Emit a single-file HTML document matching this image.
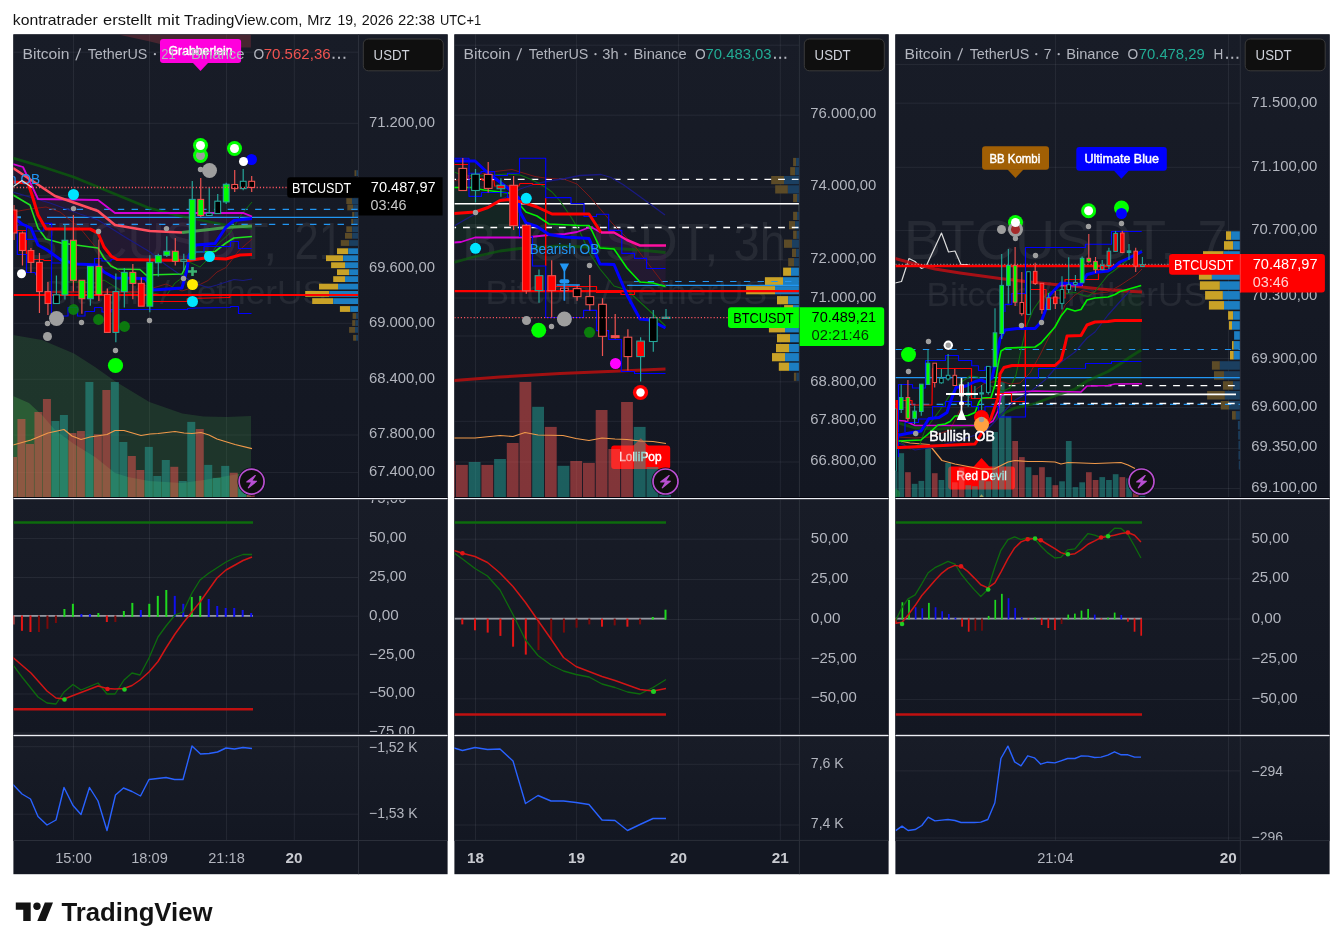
<!DOCTYPE html>
<html lang="de"><head><meta charset="utf-8"><title>TradingView Snapshot</title>
<style>html,body{margin:0;padding:0;background:#fff;}body{width:1343px;height:950px;overflow:hidden;position:relative;font-family:"Liberation Sans",sans-serif;}svg{position:absolute;left:0;top:0;display:block;will-change:transform;}text{font-family:"Liberation Sans",sans-serif;}</style>
</head><body>
<svg width="1343" height="950" viewBox="0 0 1343 950">
<defs><linearGradient id="bg" x1="0" y1="0" x2="0" y2="1"><stop offset="0" stop-color="#181c27"/><stop offset="1" stop-color="#131722"/></linearGradient>
<clipPath id="m1"><rect x="13.4" y="34.4" width="345.1" height="464.15"/></clipPath><clipPath id="a1"><rect x="358.5" y="34.4" width="89.1" height="464.15"/></clipPath><clipPath id="p1"><rect x="13.4" y="498.55" width="345.1" height="236.95"/></clipPath><clipPath id="b1"><rect x="358.5" y="499.15" width="89.1" height="235.75"/></clipPath><clipPath id="q1"><rect x="13.4" y="735.5" width="345.1" height="105"/></clipPath><clipPath id="c1"><rect x="358.5" y="736.1" width="89.1" height="104.4"/></clipPath><clipPath id="w1"><rect x="13.4" y="34.4" width="434.2" height="839.8"/></clipPath>
<clipPath id="m2"><rect x="454.4" y="34.4" width="345" height="464.15"/></clipPath><clipPath id="a2"><rect x="799.4" y="34.4" width="89.2" height="464.15"/></clipPath><clipPath id="p2"><rect x="454.4" y="498.55" width="345" height="236.95"/></clipPath><clipPath id="b2"><rect x="799.4" y="499.15" width="89.2" height="235.75"/></clipPath><clipPath id="q2"><rect x="454.4" y="735.5" width="345" height="104.9"/></clipPath><clipPath id="c2"><rect x="799.4" y="736.1" width="89.2" height="104.3"/></clipPath><clipPath id="w2"><rect x="454.4" y="34.4" width="434.2" height="839.8"/></clipPath>
<clipPath id="m3"><rect x="895.4" y="34.4" width="344.9" height="464.15"/></clipPath><clipPath id="a3"><rect x="1240.3" y="34.4" width="89.3" height="464.15"/></clipPath><clipPath id="p3"><rect x="895.4" y="498.55" width="344.9" height="236.95"/></clipPath><clipPath id="b3"><rect x="1240.3" y="499.15" width="89.3" height="235.75"/></clipPath><clipPath id="q3"><rect x="895.4" y="735.5" width="344.9" height="105.1"/></clipPath><clipPath id="c3"><rect x="1240.3" y="736.1" width="89.3" height="104.5"/></clipPath><clipPath id="w3"><rect x="895.4" y="34.4" width="434.2" height="839.8"/></clipPath>
</defs>
<text x="12.8" y="25" font-size="15" fill="#131313" textLength="84.9" lengthAdjust="spacingAndGlyphs">kontratrader</text><text x="103.1" y="25" font-size="15" fill="#131313" textLength="48.6" lengthAdjust="spacingAndGlyphs">erstellt</text><text x="157" y="25" font-size="15" fill="#131313" textLength="22.6" lengthAdjust="spacingAndGlyphs">mit</text><text x="184" y="25" font-size="15" fill="#131313" textLength="118.4" lengthAdjust="spacingAndGlyphs">TradingView.com,</text><text x="307.3" y="25" font-size="15" fill="#131313" textLength="24.3" lengthAdjust="spacingAndGlyphs">Mrz</text><text x="337.5" y="25" font-size="15" fill="#131313" textLength="19.4" lengthAdjust="spacingAndGlyphs">19,</text><text x="361.7" y="25" font-size="15" fill="#131313" textLength="31.9" lengthAdjust="spacingAndGlyphs">2026</text><text x="398" y="25" font-size="15" fill="#131313" textLength="37.1" lengthAdjust="spacingAndGlyphs">22:38</text><text x="439.9" y="25" font-size="15" fill="#131313" textLength="41.2" lengthAdjust="spacingAndGlyphs">UTC+1</text>
<g>
<rect x="13.4" y="34.4" width="434.2" height="839.8" fill="#131722"/><rect x="13.4" y="34.4" width="434.2" height="464.15" fill="url(#bg)"/><rect x="13.4" y="498.55" width="434.2" height="236.95" fill="url(#bg)"/><rect x="13.4" y="735.5" width="434.2" height="105" fill="url(#bg)"/><line x1="73.5" y1="34.4" x2="73.5" y2="840.5" stroke="rgba(240,243,250,0.07)" stroke-width="1"/><line x1="149.5" y1="34.4" x2="149.5" y2="840.5" stroke="rgba(240,243,250,0.07)" stroke-width="1"/><line x1="226.5" y1="34.4" x2="226.5" y2="840.5" stroke="rgba(240,243,250,0.07)" stroke-width="1"/><line x1="294.3" y1="34.4" x2="294.3" y2="840.5" stroke="rgba(240,243,250,0.07)" stroke-width="1"/>
<g clip-path="url(#m1)"><line x1="13.4" y1="52.2" x2="358.5" y2="52.2" stroke="rgba(240,243,250,0.07)" stroke-width="1"/><line x1="13.4" y1="123.3" x2="358.5" y2="123.3" stroke="rgba(240,243,250,0.07)" stroke-width="1"/><line x1="13.4" y1="195.4" x2="358.5" y2="195.4" stroke="rgba(240,243,250,0.07)" stroke-width="1"/><line x1="13.4" y1="268" x2="358.5" y2="268" stroke="rgba(240,243,250,0.07)" stroke-width="1"/><line x1="13.4" y1="323.3" x2="358.5" y2="323.3" stroke="rgba(240,243,250,0.07)" stroke-width="1"/><line x1="13.4" y1="379.3" x2="358.5" y2="379.3" stroke="rgba(240,243,250,0.07)" stroke-width="1"/><line x1="13.4" y1="435" x2="358.5" y2="435" stroke="rgba(240,243,250,0.07)" stroke-width="1"/><line x1="13.4" y1="472.6" x2="358.5" y2="472.6" stroke="rgba(240,243,250,0.07)" stroke-width="1"/><text x="23.5" y="258.8" font-size="52" fill="#ffffff" textLength="254" lengthAdjust="spacingAndGlyphs" fill-opacity="0.07">BTCUSDT,</text><text x="294.5" y="258.8" font-size="52" fill="#ffffff" textLength="48.6" lengthAdjust="spacingAndGlyphs" fill-opacity="0.07">21</text><text x="44.5" y="304.3" font-size="32.5" fill="#ffffff" textLength="281.5" lengthAdjust="spacingAndGlyphs" fill-opacity="0.07">Bitcoin / TetherUS</text><polygon points="118,34.4 250.9,34.4 250.9,47.5 178,47.5 160,44 150,41.4" fill="#80303c" fill-opacity="0.45"/><polygon points="13,335 42,340 74,353.5 95,367 115.5,381.6 149.4,402 182.3,413.6 203.6,416.5 226.8,417 251,415.9 251,498.55 13,498.55" fill="#377b40" fill-opacity="0.3"/><polygon points="13,396 29,403 42,415 55,430 74,444 95,457 115,473 128,477 149,481 182,483 204,480 227,476 251,472 251,498.55 13,498.55" fill="#48ad4b" fill-opacity="0.32"/><polygon points="13,164 23,167 38,199 98,200 115,213 243,212.8 252,216.5 252,254.5 240,255 226,259 205,258 189,260.5 117,259.5 111,256 104,247 98,233 90,229 46,229 38,215 32,195 28,183 13,182" fill="#5c1a66" fill-opacity="0.2"/><rect x="8.97" y="457" width="8" height="41.55" fill="#ef5350" fill-opacity="0.5"/><rect x="17.46" y="419" width="8" height="79.55" fill="#ef5350" fill-opacity="0.5"/><rect x="25.95" y="444" width="8" height="54.55" fill="#ef5350" fill-opacity="0.5"/><rect x="34.44" y="412" width="8" height="86.55" fill="#ef5350" fill-opacity="0.5"/><rect x="42.93" y="399" width="8" height="99.55" fill="#ef5350" fill-opacity="0.5"/><rect x="51.42" y="421" width="8" height="77.55" fill="#26a69a" fill-opacity="0.5"/><rect x="59.91" y="415" width="8" height="83.55" fill="#26a69a" fill-opacity="0.5"/><rect x="68.4" y="433" width="8" height="65.55" fill="#ef5350" fill-opacity="0.5"/><rect x="76.89" y="431" width="8" height="67.55" fill="#ef5350" fill-opacity="0.5"/><rect x="85.38" y="382" width="8" height="116.55" fill="#26a69a" fill-opacity="0.5"/><rect x="93.87" y="434.3" width="8" height="64.25" fill="#ef5350" fill-opacity="0.5"/><rect x="102.36" y="390" width="8" height="108.55" fill="#ef5350" fill-opacity="0.5"/><rect x="110.85" y="382" width="8" height="116.55" fill="#26a69a" fill-opacity="0.5"/><rect x="119.34" y="442" width="8" height="56.55" fill="#26a69a" fill-opacity="0.5"/><rect x="127.83" y="456" width="8" height="42.55" fill="#ef5350" fill-opacity="0.5"/><rect x="136.32" y="470" width="8" height="28.55" fill="#ef5350" fill-opacity="0.5"/><rect x="144.81" y="446.9" width="8" height="51.65" fill="#26a69a" fill-opacity="0.5"/><rect x="153.3" y="476" width="8" height="22.55" fill="#26a69a" fill-opacity="0.5"/><rect x="161.79" y="460" width="8" height="38.55" fill="#26a69a" fill-opacity="0.5"/><rect x="170.28" y="466.8" width="8" height="31.75" fill="#ef5350" fill-opacity="0.5"/><rect x="178.77" y="481" width="8" height="17.55" fill="#26a69a" fill-opacity="0.5"/><rect x="187.26" y="421.9" width="8" height="76.65" fill="#26a69a" fill-opacity="0.5"/><rect x="195.75" y="429" width="8" height="69.55" fill="#ef5350" fill-opacity="0.5"/><rect x="204.24" y="464.9" width="8" height="33.65" fill="#26a69a" fill-opacity="0.5"/><rect x="212.73" y="477.9" width="8" height="20.65" fill="#26a69a" fill-opacity="0.5"/><rect x="221.22" y="465.9" width="8" height="32.65" fill="#26a69a" fill-opacity="0.5"/><rect x="229.71" y="472.8" width="8" height="25.75" fill="#ef5350" fill-opacity="0.5"/><rect x="238.2" y="483" width="8" height="15.55" fill="#26a69a" fill-opacity="0.5"/><rect x="246.69" y="495" width="8" height="3.55" fill="#ef5350" fill-opacity="0.5"/><polyline points="13,445 31,440 48,433 64,429.5 72,436 81,439.5 90,437 107,434.5 115,430.5 124,430.5 141,435.5 150,434 158,433.5 175,431.5 184,433 192,433.5 201,432.5 209,435 217,439 235,444.5 252,448.7" fill="none" stroke="#f0994a" stroke-width="1.2" stroke-linejoin="round" /><rect x="354.5" y="170.2" width="2" height="5.8" fill="#5c4b27"/><rect x="356.5" y="170.2" width="2" height="5.8" fill="#1b3f60"/><rect x="356.5" y="177.3" width="1" height="5.8" fill="#5c4b27"/><rect x="357.5" y="177.3" width="1" height="5.8" fill="#1b3f60"/><rect x="355.5" y="184.4" width="1.5" height="5.8" fill="#5c4b27"/><rect x="357" y="184.4" width="1.5" height="5.8" fill="#1b3f60"/><rect x="354" y="191.5" width="2.5" height="5.8" fill="#5c4b27"/><rect x="356.5" y="191.5" width="2" height="5.8" fill="#1b3f60"/><rect x="346.3" y="198.2" width="5.7" height="5.8" fill="#5c4b27"/><rect x="352" y="198.2" width="6.5" height="5.8" fill="#1b3f60"/><rect x="347.3" y="204.5" width="5.8" height="5.8" fill="#5c4b27"/><rect x="353.1" y="204.5" width="5.4" height="5.8" fill="#1b3f60"/><rect x="352.2" y="212" width="2.3" height="5.8" fill="#5c4b27"/><rect x="354.5" y="212" width="4" height="5.8" fill="#1b3f60"/><rect x="351.2" y="218.9" width="2.3" height="5.8" fill="#5c4b27"/><rect x="353.5" y="218.9" width="5" height="5.8" fill="#1b3f60"/><rect x="346.3" y="226.3" width="5.9" height="5.8" fill="#5c4b27"/><rect x="352.2" y="226.3" width="6.3" height="5.8" fill="#1b3f60"/><rect x="345" y="232.9" width="7.2" height="5.8" fill="#5c4b27"/><rect x="352.2" y="232.9" width="6.3" height="5.8" fill="#1b3f60"/><rect x="340.8" y="240.1" width="8.3" height="5.8" fill="#5c4b27"/><rect x="349.1" y="240.1" width="9.4" height="5.8" fill="#1b3f60"/><rect x="337" y="248.3" width="11.2" height="5.8" fill="#c9a227"/><rect x="348.2" y="248.3" width="10.3" height="5.8" fill="#1c7ec2"/><rect x="326" y="255.3" width="17.1" height="5.8" fill="#c9a227"/><rect x="343.1" y="255.3" width="15.4" height="5.8" fill="#1c7ec2"/><rect x="331.1" y="262.3" width="13.9" height="5.8" fill="#c9a227"/><rect x="345" y="262.3" width="13.5" height="5.8" fill="#1c7ec2"/><rect x="337" y="269.3" width="12.1" height="5.8" fill="#c9a227"/><rect x="349.1" y="269.3" width="9.4" height="5.8" fill="#1c7ec2"/><rect x="333.2" y="276.2" width="11.8" height="5.8" fill="#c9a227"/><rect x="345" y="276.2" width="13.5" height="5.8" fill="#1c7ec2"/><rect x="319" y="283.7" width="19" height="5.8" fill="#c9a227"/><rect x="338" y="283.7" width="20.5" height="5.8" fill="#1c7ec2"/><rect x="305.2" y="291" width="24" height="5.8" fill="#c9a227"/><rect x="329.2" y="291" width="29.3" height="5.8" fill="#1c7ec2"/><rect x="312.2" y="298.2" width="21" height="5.8" fill="#c9a227"/><rect x="333.2" y="298.2" width="25.3" height="5.8" fill="#1c7ec2"/><rect x="339.9" y="306.1" width="10.4" height="5.8" fill="#c9a227"/><rect x="350.3" y="306.1" width="8.2" height="5.8" fill="#1c7ec2"/><rect x="352.6" y="313.1" width="3.4" height="5.8" fill="#5c4b27"/><rect x="356" y="313.1" width="2.5" height="5.8" fill="#1b3f60"/><rect x="352.2" y="320.1" width="3.3" height="5.8" fill="#5c4b27"/><rect x="355.5" y="320.1" width="3" height="5.8" fill="#1b3f60"/><rect x="349.1" y="327" width="5.9" height="5.8" fill="#5c4b27"/><rect x="355" y="327" width="3.5" height="5.8" fill="#1b3f60"/><rect x="353.1" y="334.9" width="2.9" height="5.8" fill="#5c4b27"/><rect x="356" y="334.9" width="2.5" height="5.8" fill="#1b3f60"/><line x1="49.2" y1="209.4" x2="358.5" y2="209.4" stroke="#2196f3" stroke-width="1.2" stroke-dasharray="6.4 7.33"/><line x1="47" y1="217.4" x2="358.5" y2="217.4" stroke="#2196f3" stroke-width="1.1"/><line x1="49.2" y1="224.4" x2="358.5" y2="224.4" stroke="#2196f3" stroke-width="1.2" stroke-dasharray="6.4 7.33"/><polyline points="13,158 40,166 73.6,177 110,192 149,208 180,216 205,221 226,225 252,228.5" fill="none" stroke="#0b600b" stroke-width="2.7" stroke-opacity="0.75" stroke-linejoin="round" /><polyline points="13,212 30,209 46,207 60,212 80,228 98,250 115,268 133,282 153,288 166,284 182,291 197,286 208,280.5 217,272 226,267.5 239,250.5 252,239" fill="none" stroke="#7a1818" stroke-width="1" stroke-linejoin="round" /><polyline points="13,192 50,203 80,214 98,220 125,237 150,252 166,265 182,276 197,284 208,287.5 217,285 234,279.5 243,280.5 252,279" fill="none" stroke="#1a1a80" stroke-width="1.2" stroke-linejoin="round" /><polyline points="61,282 77,282 98,283 104,280 120,290 140,297 153,293 166,296 175,283 182,278 189,262 200,267 208,259 217,245 230,233 241,215 252,202" fill="none" stroke="#0f6f0f" stroke-width="1" stroke-linejoin="round" /><polyline points="13,164 23,167 38,199 98,200 115,213 243,212.8 252,216.5" fill="none" stroke="#d500d5" stroke-width="1.8" stroke-linejoin="round" /><polyline points="13,168 55,196 98,211 115,225 150,231 182,232.5" fill="none" stroke="#ff4d5e" stroke-width="2.7" stroke-linejoin="round" /><polyline points="182,232.5 205,230 226,227.5 252,226" fill="none" stroke="#4caf50" stroke-width="3" stroke-opacity="0.85" stroke-linejoin="round" /><line x1="13.4" y1="295" x2="358.5" y2="295" stroke="#ff0000" stroke-width="2.2"/><polyline points="52,292 140,292" fill="none" stroke="#ff0000" stroke-width="1" stroke-linejoin="round" /><polyline points="153,301.5 187,301.5 187,298.5 230,297.5 230,296" fill="none" stroke="#ff0000" stroke-width="1" stroke-linejoin="round" /><polyline points="13,195 30,205 38,228 46,239 61,243 98,248 104,258 111,266 117,269 140,269.5 146,275 182,274 189,260 196,252 215,251.5 226,243 234,238 252,236.5" fill="none" stroke="#1fe01f" stroke-width="1.6" stroke-linejoin="round" /><polyline points="17.3,225 26.5,225 26.5,272.5 35,272.5 36,275 43,275" fill="none" stroke="#0000ff" stroke-width="1.2" stroke-linejoin="round" /><polyline points="17.3,225 17.3,254.5 26.5,254.5" fill="none" stroke="#0000ff" stroke-width="1.2" stroke-linejoin="round" /><polyline points="26.5,239.4 34.3,239.4" fill="none" stroke="#0000ff" stroke-width="1.2" stroke-linejoin="round" /><polyline points="34.3,231 43.8,231 43.8,223.4 51.7,223.4 51.7,263 61,263" fill="none" stroke="#0000ff" stroke-width="1.2" stroke-linejoin="round" /><polyline points="17,230.5 26,230.5" fill="none" stroke="#ff0000" stroke-width="1.2" stroke-linejoin="round" /><line x1="26.4" y1="240" x2="26.4" y2="254" stroke="#ff0000" stroke-width="1.2"/><polyline points="34,259.5 43.5,259.5 44,260.5 51,260.5" fill="none" stroke="#ff0000" stroke-width="1.2" stroke-linejoin="round" /><line x1="17" y1="217.3" x2="21" y2="217.3" stroke="#2196f3" stroke-width="2"/><polyline points="51.5,263 51.5,316 68,316 68,307.5 77.5,307.5 77.5,316 85,316 85,311.5 94.5,311.5 94.5,307.5 102,307.5 102,312 111,312 111,309.5 187.5,309.5 187.5,308.5 196.5,308 230,307.5 231,306.5 238.5,306.5 238.5,313.5 251.5,313.5" fill="none" stroke="#0000ff" stroke-width="1.2" stroke-linejoin="round" /><polyline points="94.5,265 94.5,258.5 102,258.5 102,261 111,261 111,259.5 140,259.5" fill="none" stroke="#0000ff" stroke-width="1.2" stroke-linejoin="round" /><polyline points="189,255 196,252 204,252 204,246.5 230.5,246.5 230.5,241.5 238.5,241.5 238.5,248.5 251.5,248.5" fill="none" stroke="#0000ff" stroke-width="1.2" stroke-linejoin="round" /><polyline points="13,215 17,220 22,224 31,228 38,245 47,250 61,260 77,264 98,265 104,272 115,278 145,278.5 153,290 182,288 187,270 189,255 196,245 215,243.5 226,227 234,220.5 252,218.5" fill="none" stroke="#0000ff" stroke-width="3" stroke-linejoin="round" /><polyline points="13,182 28,183 32,195 38,215 46,229 90,229 98,233 104,247 111,256 117,259.5 189,260.5 205,258 226,259 240,255 252,254.5" fill="none" stroke="#ff0000" stroke-width="3.1" stroke-linejoin="round" /><line x1="13.97" y1="205" x2="13.97" y2="210" stroke="#ef5350" stroke-width="1.2"/><line x1="13.97" y1="233" x2="13.97" y2="240" stroke="#ef5350" stroke-width="1.2"/><rect x="11.07" y="210" width="5.8" height="23" fill="#ff0000" stroke="#ef5350" stroke-width="1.1"/><line x1="22.46" y1="231.6" x2="22.46" y2="233" stroke="#ef5350" stroke-width="1.2"/><line x1="22.46" y1="250.5" x2="22.46" y2="265.5" stroke="#ef5350" stroke-width="1.2"/><rect x="19.56" y="233" width="5.8" height="17.5" fill="#ff0000" stroke="#ef5350" stroke-width="1.1"/><line x1="30.95" y1="248" x2="30.95" y2="250.5" stroke="#ef5350" stroke-width="1.2"/><line x1="30.95" y1="262.4" x2="30.95" y2="272.7" stroke="#ef5350" stroke-width="1.2"/><rect x="28.05" y="250.5" width="5.8" height="11.9" fill="#ff0000" stroke="#ef5350" stroke-width="1.1"/><line x1="39.44" y1="253" x2="39.44" y2="262.4" stroke="#ef5350" stroke-width="1.2"/><line x1="39.44" y1="291.6" x2="39.44" y2="313" stroke="#ef5350" stroke-width="1.2"/><rect x="36.54" y="262.4" width="5.8" height="29.2" fill="#ff0000" stroke="#ef5350" stroke-width="1.1"/><line x1="47.93" y1="282" x2="47.93" y2="291.6" stroke="#ef5350" stroke-width="1.2"/><line x1="47.93" y1="303.5" x2="47.93" y2="315" stroke="#ef5350" stroke-width="1.2"/><rect x="45.03" y="291.6" width="5.8" height="11.9" fill="#ff0000" stroke="#ef5350" stroke-width="1.1"/><line x1="56.42" y1="275.5" x2="56.42" y2="294.8" stroke="#26a69a" stroke-width="1.2"/><rect x="53.52" y="294.8" width="5.8" height="8.7" fill="#000000" stroke="#26a69a" stroke-width="1.1"/><line x1="64.91" y1="224.5" x2="64.91" y2="240.3" stroke="#26a69a" stroke-width="1.2"/><line x1="64.91" y1="294.8" x2="64.91" y2="299.5" stroke="#26a69a" stroke-width="1.2"/><rect x="62.01" y="240.3" width="5.8" height="54.5" fill="#00ff00" stroke="#26a69a" stroke-width="1.1"/><line x1="73.4" y1="215" x2="73.4" y2="240.3" stroke="#ef5350" stroke-width="1.2"/><line x1="73.4" y1="280.3" x2="73.4" y2="291.6" stroke="#ef5350" stroke-width="1.2"/><rect x="70.5" y="240.3" width="5.8" height="40" fill="#00ff00" stroke="#ef5350" stroke-width="1.1"/><line x1="81.89" y1="298.7" x2="81.89" y2="313.7" stroke="#ef5350" stroke-width="1.2"/><rect x="78.99" y="280.3" width="5.8" height="18.4" fill="#00ff00" stroke="#ef5350" stroke-width="1.1"/><line x1="90.38" y1="298.7" x2="90.38" y2="305.8" stroke="#26a69a" stroke-width="1.2"/><rect x="87.48" y="266.4" width="5.8" height="32.3" fill="#00ff00" stroke="#26a69a" stroke-width="1.1"/><line x1="98.87" y1="239.5" x2="98.87" y2="266.4" stroke="#ef5350" stroke-width="1.2"/><line x1="98.87" y1="294.5" x2="98.87" y2="301" stroke="#ef5350" stroke-width="1.2"/><rect x="95.97" y="266.4" width="5.8" height="28.1" fill="#00ff00" stroke="#ef5350" stroke-width="1.1"/><line x1="107.36" y1="288.5" x2="107.36" y2="294.5" stroke="#ef5350" stroke-width="1.2"/><rect x="104.46" y="294.5" width="5.8" height="37.9" fill="#ff0000" stroke="#ef5350" stroke-width="1.1"/><line x1="115.85" y1="273.5" x2="115.85" y2="291.6" stroke="#26a69a" stroke-width="1.2"/><line x1="115.85" y1="332.4" x2="115.85" y2="342.2" stroke="#26a69a" stroke-width="1.2"/><rect x="112.95" y="291.6" width="5.8" height="40.8" fill="#ff0000" stroke="#26a69a" stroke-width="1.1"/><line x1="124.34" y1="268" x2="124.34" y2="272.4" stroke="#26a69a" stroke-width="1.2"/><line x1="124.34" y1="291.6" x2="124.34" y2="307.4" stroke="#26a69a" stroke-width="1.2"/><rect x="121.44" y="272.4" width="5.8" height="19.2" fill="#00ff00" stroke="#26a69a" stroke-width="1.1"/><line x1="132.83" y1="264" x2="132.83" y2="272.4" stroke="#ef5350" stroke-width="1.2"/><line x1="132.83" y1="283.4" x2="132.83" y2="299.2" stroke="#ef5350" stroke-width="1.2"/><rect x="129.93" y="272.4" width="5.8" height="11" fill="#00ff00" stroke="#ef5350" stroke-width="1.1"/><line x1="141.32" y1="277.4" x2="141.32" y2="283.4" stroke="#ef5350" stroke-width="1.2"/><rect x="138.42" y="283.4" width="5.8" height="22.8" fill="#ff0000" stroke="#ef5350" stroke-width="1.1"/><line x1="149.81" y1="255.3" x2="149.81" y2="262.4" stroke="#26a69a" stroke-width="1.2"/><line x1="149.81" y1="306.2" x2="149.81" y2="312.2" stroke="#26a69a" stroke-width="1.2"/><rect x="146.91" y="262.4" width="5.8" height="43.8" fill="#00ff00" stroke="#26a69a" stroke-width="1.1"/><line x1="158.3" y1="253.7" x2="158.3" y2="255.6" stroke="#26a69a" stroke-width="1.2"/><line x1="158.3" y1="262.7" x2="158.3" y2="276.6" stroke="#26a69a" stroke-width="1.2"/><rect x="155.4" y="255.6" width="5.8" height="7.1" fill="#00ff00" stroke="#26a69a" stroke-width="1.1"/><line x1="166.79" y1="236.3" x2="166.79" y2="251.3" stroke="#26a69a" stroke-width="1.2"/><line x1="166.79" y1="255.3" x2="166.79" y2="256.9" stroke="#26a69a" stroke-width="1.2"/><rect x="163.89" y="251.3" width="5.8" height="4" fill="#00ff00" stroke="#26a69a" stroke-width="1.1"/><line x1="175.28" y1="238" x2="175.28" y2="251.3" stroke="#ef5350" stroke-width="1.2"/><line x1="175.28" y1="261.3" x2="175.28" y2="265.6" stroke="#ef5350" stroke-width="1.2"/><rect x="172.38" y="251.3" width="5.8" height="10" fill="#00ff00" stroke="#ef5350" stroke-width="1.1"/><line x1="183.77" y1="253.7" x2="183.77" y2="259.7" stroke="#26a69a" stroke-width="1.2"/><line x1="183.77" y1="261.3" x2="183.77" y2="270.3" stroke="#26a69a" stroke-width="1.2"/><rect x="180.87" y="259.7" width="5.8" height="1.6" fill="#000000" stroke="#26a69a" stroke-width="1.1"/><line x1="192.26" y1="181" x2="192.26" y2="199.4" stroke="#26a69a" stroke-width="1.2"/><rect x="189.36" y="199.4" width="5.8" height="60.3" fill="#00ff00" stroke="#26a69a" stroke-width="1.1"/><line x1="200.75" y1="177.9" x2="200.75" y2="199.4" stroke="#ef5350" stroke-width="1.2"/><line x1="200.75" y1="215.5" x2="200.75" y2="217" stroke="#ef5350" stroke-width="1.2"/><rect x="197.85" y="199.4" width="5.8" height="16.1" fill="#00ff00" stroke="#ef5350" stroke-width="1.1"/><line x1="209.24" y1="187.5" x2="209.24" y2="213.2" stroke="#26a69a" stroke-width="1.2"/><rect x="206.34" y="213.2" width="5.8" height="2.3" fill="#000000" stroke="#26a69a" stroke-width="1.1"/><line x1="217.73" y1="194" x2="217.73" y2="201.2" stroke="#26a69a" stroke-width="1.2"/><rect x="214.83" y="201.2" width="5.8" height="12.3" fill="#000000" stroke="#26a69a" stroke-width="1.1"/><line x1="226.22" y1="182.7" x2="226.22" y2="184.3" stroke="#26a69a" stroke-width="1.2"/><line x1="226.22" y1="201.9" x2="226.22" y2="204" stroke="#26a69a" stroke-width="1.2"/><rect x="223.32" y="184.3" width="5.8" height="17.6" fill="#00ff00" stroke="#26a69a" stroke-width="1.1"/><line x1="234.71" y1="170" x2="234.71" y2="184.5" stroke="#ef5350" stroke-width="1.2"/><line x1="234.71" y1="188.6" x2="234.71" y2="191.9" stroke="#ef5350" stroke-width="1.2"/><rect x="231.81" y="184.5" width="5.8" height="4.1" fill="#000000" stroke="#ef5350" stroke-width="1.1"/><line x1="243.2" y1="169" x2="243.2" y2="181.3" stroke="#26a69a" stroke-width="1.2"/><line x1="243.2" y1="188.6" x2="243.2" y2="190.2" stroke="#26a69a" stroke-width="1.2"/><rect x="240.3" y="181.3" width="5.8" height="7.3" fill="#000000" stroke="#26a69a" stroke-width="1.1"/><line x1="251.69" y1="176" x2="251.69" y2="181.3" stroke="#ef5350" stroke-width="1.2"/><line x1="251.69" y1="187.5" x2="251.69" y2="191.9" stroke="#ef5350" stroke-width="1.2"/><rect x="248.79" y="181.3" width="5.8" height="6.2" fill="#000000" stroke="#ef5350" stroke-width="1.1"/><line x1="13.4" y1="187.5" x2="288" y2="187.5" stroke="#f7525f" stroke-width="1.3" stroke-dasharray="1.2 2"/><circle cx="73.5" cy="208.6" r="2.7" fill="#9e9e9e"/><circle cx="98.5" cy="231.5" r="2.7" fill="#9e9e9e"/><circle cx="166.5" cy="228.6" r="2.7" fill="#9e9e9e"/><circle cx="47.5" cy="323.5" r="2.7" fill="#9e9e9e"/><circle cx="81.5" cy="322.5" r="2.7" fill="#9e9e9e"/><circle cx="115.5" cy="350.5" r="2.7" fill="#9e9e9e"/><circle cx="183.5" cy="278.5" r="2.7" fill="#9e9e9e"/><circle cx="149.5" cy="320.5" r="2.7" fill="#9e9e9e"/><circle cx="200.5" cy="169.5" r="2.7" fill="#9e9e9e"/><circle cx="56.5" cy="318.5" r="7.5" fill="#9e9e9e"/><circle cx="47.5" cy="336.5" r="4.5" fill="#9e9e9e"/><circle cx="209.5" cy="170.5" r="7.5" fill="#9e9e9e"/><circle cx="73.5" cy="194.5" r="5.5" fill="#00e5ff"/><circle cx="209.5" cy="256.5" r="5.5" fill="#00e5ff"/><circle cx="192.5" cy="301.5" r="5.5" fill="#00e5ff"/><circle cx="192.5" cy="284.5" r="5.5" fill="#ffeb00"/><circle cx="21.5" cy="273.7" r="4.5" fill="#ffffff"/><circle cx="73.5" cy="309.5" r="5.4" fill="#0a8a0a" fill-opacity="0.85"/><circle cx="98.5" cy="319.5" r="5.4" fill="#0a8a0a" fill-opacity="0.85"/><circle cx="124.5" cy="326.5" r="5.4" fill="#0a8a0a" fill-opacity="0.85"/><circle cx="115.5" cy="365.5" r="7.6" fill="#00ff00"/><circle cx="200.5" cy="155.5" r="7.5" fill="#00ff00"/><circle cx="200.5" cy="155.5" r="4.5" fill="#9e9e9e"/><circle cx="200.5" cy="145.5" r="7.5" fill="#00ff00"/><circle cx="200.5" cy="145.5" r="4.5" fill="#ffffff"/><circle cx="234.5" cy="148.5" r="7.5" fill="#00ff00"/><circle cx="234.5" cy="148.5" r="4.5" fill="#ffffff"/><circle cx="251.5" cy="159.5" r="5.5" fill="#0000ff"/><circle cx="243.5" cy="161.5" r="4.5" fill="#ffffff"/><line x1="188" y1="271.5" x2="197" y2="271.5" stroke="#3cb371" stroke-width="2.6"/><line x1="192.5" y1="267" x2="192.5" y2="276" stroke="#3cb371" stroke-width="2.6"/><text x="-23.4" y="184.3" font-size="14.5" fill="#2196f3" textLength="63.5" lengthAdjust="spacingAndGlyphs">Bullish OB</text><polyline points="12,187.5 22,180.5 32,187.5" fill="none" stroke="#dddddd" stroke-width="1.2" stroke-linejoin="round" /><rect x="160" y="38.9" width="81.1" height="24.2" fill="#ff00dd" rx="3"/><polygon points="192.5,62.6 200.5,71 208.5,62.6" fill="#ff00dd"/><text x="168.6" y="54.5" font-size="12.5" fill="#ffffff" textLength="63.9" lengthAdjust="spacingAndGlyphs" stroke="#ffffff" stroke-width="0.45">Grabberlein</text><circle cx="251.6" cy="481.6" r="14.1" fill="#0c0e15"/><circle cx="251.6" cy="481.6" r="12.5" fill="#0f0f0f" stroke="#b84fd0" stroke-width="1.7"/><polygon points="254.9,475.1 256.1,475.3 252.6,480.6 257,480.8 257,481.6 248.5,488.5 247.6,488 250.9,482.6 246.3,482.5 246.3,481.6" fill="#b84fd0"/></g>
<g clip-path="url(#p1)"><line x1="13.4" y1="538.4" x2="358.5" y2="538.4" stroke="rgba(240,243,250,0.07)" stroke-width="1"/><line x1="13.4" y1="577.5" x2="358.5" y2="577.5" stroke="rgba(240,243,250,0.07)" stroke-width="1"/><line x1="13.4" y1="616.2" x2="358.5" y2="616.2" stroke="rgba(240,243,250,0.07)" stroke-width="1"/><line x1="13.4" y1="655" x2="358.5" y2="655" stroke="rgba(240,243,250,0.07)" stroke-width="1"/><line x1="13.4" y1="694" x2="358.5" y2="694" stroke="rgba(240,243,250,0.07)" stroke-width="1"/><line x1="13.4" y1="733" x2="358.5" y2="733" stroke="rgba(240,243,250,0.07)" stroke-width="1"/><line x1="13.4" y1="522.5" x2="253" y2="522.5" stroke="#0d6b0d" stroke-width="2.6"/><line x1="13.4" y1="709.2" x2="253" y2="709.2" stroke="#c01010" stroke-width="2.6"/><line x1="13.4" y1="615.9" x2="253" y2="615.9" stroke="#9598a1" stroke-width="1.6"/><rect x="12.47" y="615.5" width="2" height="9" fill="#ef5350"/><rect x="20.96" y="615.5" width="2" height="15.3" fill="#e01515"/><rect x="29.45" y="615.5" width="2" height="16.5" fill="#e01515"/><rect x="37.94" y="615.5" width="2" height="16.5" fill="#7a0a0a"/><rect x="46.43" y="615.5" width="2" height="13.3" fill="#7a0a0a"/><rect x="54.92" y="615.5" width="2" height="7.5" fill="#7a0a0a"/><rect x="63.41" y="609" width="2" height="8" fill="#1fd81f"/><rect x="71.9" y="603.8" width="2" height="13.2" fill="#1fd81f"/><rect x="80.39" y="614" width="2" height="3" fill="#1010ee"/><rect x="88.88" y="614" width="2" height="3" fill="#1010ee"/><rect x="97.37" y="613" width="2" height="4" fill="#1fd81f"/><rect x="105.86" y="615.5" width="2" height="6.5" fill="#e01515"/><rect x="114.35" y="615.5" width="2" height="6.5" fill="#7a0a0a"/><rect x="122.84" y="611" width="2" height="6" fill="#1fd81f"/><rect x="131.33" y="602.9" width="2" height="14.1" fill="#1fd81f"/><rect x="139.82" y="610" width="2" height="7" fill="#1010ee"/><rect x="148.31" y="603.8" width="2" height="13.2" fill="#1fd81f"/><rect x="156.8" y="595.9" width="2" height="21.1" fill="#1fd81f"/><rect x="165.29" y="590" width="2" height="27" fill="#1fd81f"/><rect x="173.78" y="595.9" width="2" height="21.1" fill="#1010ee"/><rect x="182.27" y="603.8" width="2" height="13.2" fill="#1010ee"/><rect x="190.76" y="596.9" width="2" height="20.1" fill="#1fd81f"/><rect x="199.25" y="595.9" width="2" height="21.1" fill="#1fd81f"/><rect x="207.74" y="599" width="2" height="18" fill="#1010ee"/><rect x="216.23" y="606" width="2" height="11" fill="#1010ee"/><rect x="224.72" y="608" width="2" height="9" fill="#1010ee"/><rect x="233.21" y="608" width="2" height="9" fill="#1010ee"/><rect x="241.7" y="610" width="2" height="7" fill="#1010ee"/><rect x="250.19" y="613" width="2" height="4" fill="#1010ee"/><polyline points="13,665 22,677 38,697 47,703 56,704 64,692 73,684.5 81,690 98,683 107,694 115,694 124,680 132,673 140,675 149,658 158,637 166,626 175,615 183,612 192,593 200,580 209,573 226,562 235,557.5 243,554.5 252,554.5" fill="none" stroke="#0d6b0d" stroke-width="1.3" stroke-linejoin="round" /><polyline points="13,657.5 31,673 47,691 56,698 64,699 81,692.5 98,686 107,688.5 115,689 124,688.5 132,685.5 140,680 149,672 158,661.5 166,648 175,634 183,623 200,602 217,578 226,570 235,565 243,560.5 252,557" fill="none" stroke="#d01515" stroke-width="1.5" stroke-linejoin="round" /><circle cx="64.5" cy="699.5" r="2.3" fill="#22cc22"/><circle cx="107.5" cy="689" r="2.3" fill="#e01515"/><circle cx="124.5" cy="689.5" r="2.3" fill="#22cc22"/></g>
<g clip-path="url(#q1)"><line x1="13.4" y1="746.7" x2="358.5" y2="746.7" stroke="rgba(240,243,250,0.07)" stroke-width="1"/><line x1="13.4" y1="814.2" x2="358.5" y2="814.2" stroke="rgba(240,243,250,0.07)" stroke-width="1"/><polyline points="13,784.5 22,794 30.5,799 38,816.5 47,825 56,820 64,787.5 73,805.5 81,814.5 89.5,787.5 98,801 107,830.5 115.5,795 123.5,788 132,791.5 140.5,796 149,779.5 166,777.5 174.5,779.5 183,779.5 192,746 200.5,754 209,753.5 217.5,752 226,748 234.5,749 243,747.5 252,748.5" fill="none" stroke="#2962ff" stroke-width="1.4" stroke-linejoin="round" /></g>
<g clip-path="url(#a1)"><text x="369" y="127" font-size="14.5" fill="#b2b5be" textLength="66" lengthAdjust="spacingAndGlyphs">71.200,00</text><text x="369" y="271.5" font-size="14.5" fill="#b2b5be" textLength="66" lengthAdjust="spacingAndGlyphs">69.600,00</text><text x="369" y="326.7" font-size="14.5" fill="#b2b5be" textLength="66" lengthAdjust="spacingAndGlyphs">69.000,00</text><text x="369" y="382.5" font-size="14.5" fill="#b2b5be" textLength="66" lengthAdjust="spacingAndGlyphs">68.400,00</text><text x="369" y="438.3" font-size="14.5" fill="#b2b5be" textLength="66" lengthAdjust="spacingAndGlyphs">67.800,00</text><text x="369" y="475.8" font-size="14.5" fill="#b2b5be" textLength="66" lengthAdjust="spacingAndGlyphs">67.400,00</text></g>
<g clip-path="url(#b1)"><text x="369" y="503" font-size="14.5" fill="#b2b5be" textLength="37.5" lengthAdjust="spacingAndGlyphs">75,00</text><text x="369" y="542" font-size="14.5" fill="#b2b5be" textLength="37.5" lengthAdjust="spacingAndGlyphs">50,00</text><text x="369" y="581" font-size="14.5" fill="#b2b5be" textLength="37.5" lengthAdjust="spacingAndGlyphs">25,00</text><text x="369" y="619.7" font-size="14.5" fill="#b2b5be" textLength="29.7" lengthAdjust="spacingAndGlyphs">0,00</text><text x="369" y="658.5" font-size="14.5" fill="#b2b5be" textLength="46" lengthAdjust="spacingAndGlyphs">−25,00</text><text x="369" y="697.3" font-size="14.5" fill="#b2b5be" textLength="46" lengthAdjust="spacingAndGlyphs">−50,00</text><text x="369" y="736" font-size="14.5" fill="#b2b5be" textLength="46" lengthAdjust="spacingAndGlyphs">−75,00</text></g>
<g clip-path="url(#c1)"><text x="369" y="751.5" font-size="14.5" fill="#b2b5be" textLength="48.5" lengthAdjust="spacingAndGlyphs">−1,52 K</text><text x="369" y="817.5" font-size="14.5" fill="#b2b5be" textLength="48.5" lengthAdjust="spacingAndGlyphs">−1,53 K</text></g>
<line x1="358.5" y1="34.4" x2="358.5" y2="874.2" stroke="#2b2f3a" stroke-width="1"/><line x1="13.4" y1="840.5" x2="447.6" y2="840.5" stroke="#2b2f3a" stroke-width="1"/><line x1="13.4" y1="498.35" x2="447.6" y2="498.35" stroke="#05060f" stroke-width="2.8"/><line x1="13.4" y1="498.55" x2="447.6" y2="498.55" stroke="#eceef5" stroke-width="1.3"/><line x1="13.4" y1="735.3" x2="447.6" y2="735.3" stroke="#05060f" stroke-width="2.8"/><line x1="13.4" y1="735.5" x2="447.6" y2="735.5" stroke="#eceef5" stroke-width="1.3"/>
<g clip-path="url(#w1)"><path d="M290.2 177.2H442.6V215.5H358.5V197.8H290.2a3 3 0 0 1-3-3V180.2a3 3 0 0 1 3-3z" fill="#000000"/><text x="291.9" y="192.9" font-size="14.5" fill="#ffffff" textLength="59.3" lengthAdjust="spacingAndGlyphs">BTCUSDT</text><text x="370.8" y="191.5" font-size="14.5" fill="#ffffff" textLength="64.8" lengthAdjust="spacingAndGlyphs">70.487,97</text><text x="370.6" y="209.6" font-size="14.5" fill="#c8c8c8" textLength="36" lengthAdjust="spacingAndGlyphs">03:46</text><text x="22.5" y="58.8" font-size="14.5" fill="#b2b5be" textLength="47" lengthAdjust="spacingAndGlyphs">Bitcoin</text><line x1="75.9" y1="60.4" x2="80.5" y2="48.2" stroke="#b2b5be" stroke-width="1.25"/><text x="87.7" y="58.8" font-size="14.5" fill="#b2b5be" textLength="59.7" lengthAdjust="spacingAndGlyphs">TetherUS</text><circle cx="154.9" cy="54.2" r="1.15" fill="#b2b5be"/><text x="161.2" y="58.8" font-size="14.5" fill="#b2b5be" textLength="14.5" lengthAdjust="spacingAndGlyphs">21</text><circle cx="183.3" cy="54.2" r="1.15" fill="#b2b5be"/><text x="191" y="58.8" font-size="14.5" fill="#b2b5be" textLength="53.5" lengthAdjust="spacingAndGlyphs">Binance</text><text x="253.4" y="58.8" font-size="14.5" fill="#b2b5be" textLength="10.7" lengthAdjust="spacingAndGlyphs">O</text><text x="263.7" y="58.8" font-size="14.5" fill="#ef5350" textLength="67" lengthAdjust="spacingAndGlyphs">70.562,36</text><rect x="332.6" y="56.7" width="1.9" height="2.1" fill="#b2b5be"/><rect x="338.05" y="56.7" width="1.9" height="2.1" fill="#b2b5be"/><rect x="343.5" y="56.7" width="1.9" height="2.1" fill="#b2b5be"/><rect x="363.3" y="39" width="80" height="31.8" fill="#0f0f0f" rx="5" stroke="#3a3a3a" stroke-width="1"/><text x="373.6" y="59.9" font-size="15.5" fill="#d1d4dc" textLength="36" lengthAdjust="spacingAndGlyphs">USDT</text><text x="73.5" y="863.1" font-size="14.5" fill="#b2b5be" textLength="36.5" lengthAdjust="spacingAndGlyphs" text-anchor="middle">15:00</text><text x="149.5" y="863.1" font-size="14.5" fill="#b2b5be" textLength="36.5" lengthAdjust="spacingAndGlyphs" text-anchor="middle">18:09</text><text x="226.5" y="863.1" font-size="14.5" fill="#b2b5be" textLength="36.5" lengthAdjust="spacingAndGlyphs" text-anchor="middle">21:18</text><text x="294" y="863.1" font-size="14.5" fill="#c8cad0" textLength="17" lengthAdjust="spacingAndGlyphs" text-anchor="middle" font-weight="bold">20</text></g>
</g>
<g>
<rect x="454.4" y="34.4" width="434.2" height="839.8" fill="#131722"/><rect x="454.4" y="34.4" width="434.2" height="464.15" fill="url(#bg)"/><rect x="454.4" y="498.55" width="434.2" height="236.95" fill="url(#bg)"/><rect x="454.4" y="735.5" width="434.2" height="104.9" fill="url(#bg)"/><line x1="475.5" y1="34.4" x2="475.5" y2="840.4" stroke="rgba(240,243,250,0.07)" stroke-width="1"/><line x1="576.6" y1="34.4" x2="576.6" y2="840.4" stroke="rgba(240,243,250,0.07)" stroke-width="1"/><line x1="678.4" y1="34.4" x2="678.4" y2="840.4" stroke="rgba(240,243,250,0.07)" stroke-width="1"/><line x1="780.3" y1="34.4" x2="780.3" y2="840.4" stroke="rgba(240,243,250,0.07)" stroke-width="1"/>
<g clip-path="url(#m2)"><line x1="454.4" y1="45.2" x2="799.4" y2="45.2" stroke="rgba(240,243,250,0.07)" stroke-width="1"/><line x1="454.4" y1="115.2" x2="799.4" y2="115.2" stroke="rgba(240,243,250,0.07)" stroke-width="1"/><line x1="454.4" y1="187" x2="799.4" y2="187" stroke="rgba(240,243,250,0.07)" stroke-width="1"/><line x1="454.4" y1="260" x2="799.4" y2="260" stroke="rgba(240,243,250,0.07)" stroke-width="1"/><line x1="454.4" y1="298" x2="799.4" y2="298" stroke="rgba(240,243,250,0.07)" stroke-width="1"/><line x1="454.4" y1="336" x2="799.4" y2="336" stroke="rgba(240,243,250,0.07)" stroke-width="1"/><line x1="454.4" y1="381.8" x2="799.4" y2="381.8" stroke="rgba(240,243,250,0.07)" stroke-width="1"/><line x1="454.4" y1="421.3" x2="799.4" y2="421.3" stroke="rgba(240,243,250,0.07)" stroke-width="1"/><line x1="454.4" y1="462" x2="799.4" y2="462" stroke="rgba(240,243,250,0.07)" stroke-width="1"/><text x="461.9" y="259.5" font-size="52" fill="#ffffff" textLength="256.7" lengthAdjust="spacingAndGlyphs" fill-opacity="0.07">BTCUSDT,</text><text x="733.6" y="259.5" font-size="52" fill="#ffffff" textLength="52.1" lengthAdjust="spacingAndGlyphs" fill-opacity="0.07">3h</text><text x="485.5" y="304.3" font-size="32.5" fill="#ffffff" textLength="281.5" lengthAdjust="spacingAndGlyphs" fill-opacity="0.07">Bitcoin / TetherUS</text><polygon points="454,187.5 471,187.5 484,190 500,192 509,193 520,205 520,237.5 475,237.5 461,242 454,242.5" fill="#10641a" fill-opacity="0.15"/><polygon points="580,232 588,227.5 592,227.5 601,232.5 614,232.5 627,240 640,245.5 666,245.5 665.5,286.5 653,283 640,282 627,268 614,249 600,248 592,231" fill="#5c1a66" fill-opacity="0.2"/><rect x="611.2" y="445.5" width="59" height="23.6" fill="#ff0000" rx="3"/><polygon points="633.05,446 640.8,438.2 648.55,446" fill="#ff0000"/><text x="619.2" y="461" font-size="12.5" fill="#ffffff" textLength="42.4" lengthAdjust="spacingAndGlyphs" stroke="#ffffff" stroke-width="0.45">LolliPop</text><rect x="443.3" y="461" width="11.8" height="37.55" fill="#ef5350" fill-opacity="0.5"/><rect x="456" y="464.9" width="11.8" height="33.65" fill="#ef5350" fill-opacity="0.5"/><rect x="468.7" y="462" width="11.8" height="36.55" fill="#26a69a" fill-opacity="0.5"/><rect x="481.4" y="464.9" width="11.8" height="33.65" fill="#ef5350" fill-opacity="0.5"/><rect x="494.1" y="459" width="11.8" height="39.55" fill="#26a69a" fill-opacity="0.5"/><rect x="506.8" y="443" width="11.8" height="55.55" fill="#ef5350" fill-opacity="0.5"/><rect x="519.5" y="382" width="11.8" height="116.55" fill="#ef5350" fill-opacity="0.5"/><rect x="532.2" y="406.8" width="11.8" height="91.75" fill="#26a69a" fill-opacity="0.5"/><rect x="544.9" y="426.9" width="11.8" height="71.65" fill="#ef5350" fill-opacity="0.5"/><rect x="557.6" y="465.8" width="11.8" height="32.75" fill="#26a69a" fill-opacity="0.5"/><rect x="570.3" y="461" width="11.8" height="37.55" fill="#ef5350" fill-opacity="0.5"/><rect x="583" y="462.9" width="11.8" height="35.65" fill="#ef5350" fill-opacity="0.5"/><rect x="595.7" y="410" width="11.8" height="88.55" fill="#ef5350" fill-opacity="0.5"/><rect x="608.4" y="449" width="11.8" height="49.55" fill="#ef5350" fill-opacity="0.5"/><rect x="621.1" y="402" width="11.8" height="96.55" fill="#ef5350" fill-opacity="0.5"/><rect x="633.8" y="426.9" width="11.8" height="71.65" fill="#26a69a" fill-opacity="0.5"/><rect x="646.5" y="467" width="11.8" height="31.55" fill="#26a69a" fill-opacity="0.5"/><rect x="659.2" y="494.9" width="11.8" height="3.65" fill="#26a69a" fill-opacity="0.5"/><polyline points="454,438 475,438 500,435.5 513,436.5 525,432.5 538,435 563,435.5 576,438.5 589,440.5 602,438 615,439 627,439.5 640,441 653,441.5 666,443.5" fill="none" stroke="#f0994a" stroke-width="1.2" stroke-linejoin="round" /><rect x="793.1" y="157.9" width="3" height="8.2" fill="#5c4b27"/><rect x="796.1" y="157.9" width="3.3" height="8.2" fill="#1b3f60"/><rect x="790.2" y="167.1" width="4.9" height="8.2" fill="#5c4b27"/><rect x="795.1" y="167.1" width="4.3" height="8.2" fill="#1b3f60"/><rect x="771.2" y="176" width="12.8" height="8.2" fill="#5c4b27"/><rect x="784" y="176" width="15.4" height="8.2" fill="#1b3f60"/><rect x="775.2" y="185.3" width="12.7" height="8.2" fill="#5c4b27"/><rect x="787.9" y="185.3" width="11.5" height="8.2" fill="#1b3f60"/><rect x="793.1" y="194" width="3.9" height="8.2" fill="#5c4b27"/><rect x="797" y="194" width="2.4" height="8.2" fill="#1b3f60"/><rect x="798.1" y="203.4" width="0.5" height="8.2" fill="#5c4b27"/><rect x="798.6" y="203.4" width="0.8" height="8.2" fill="#1b3f60"/><rect x="793.1" y="211.8" width="3.9" height="8.2" fill="#5c4b27"/><rect x="797" y="211.8" width="2.4" height="8.2" fill="#1b3f60"/><rect x="789" y="221.1" width="6.1" height="8.2" fill="#5c4b27"/><rect x="795.1" y="221.1" width="4.3" height="8.2" fill="#1b3f60"/><rect x="793.1" y="230.7" width="3.7" height="8.2" fill="#5c4b27"/><rect x="796.8" y="230.7" width="2.6" height="8.2" fill="#1b3f60"/><rect x="784" y="239.6" width="8" height="8.2" fill="#5c4b27"/><rect x="792" y="239.6" width="7.4" height="8.2" fill="#1b3f60"/><rect x="792" y="248.8" width="4.1" height="8.2" fill="#5c4b27"/><rect x="796.1" y="248.8" width="3.3" height="8.2" fill="#1b3f60"/><rect x="788.2" y="258.1" width="5.8" height="8.2" fill="#5c4b27"/><rect x="794" y="258.1" width="5.4" height="8.2" fill="#1b3f60"/><rect x="783.1" y="267.6" width="7.9" height="8.2" fill="#c9a227"/><rect x="791" y="267.6" width="8.4" height="8.2" fill="#1c7ec2"/><rect x="764.9" y="277.2" width="18.1" height="8.2" fill="#c9a227"/><rect x="783" y="277.2" width="16.4" height="8.2" fill="#1c7ec2"/><rect x="746.1" y="286.1" width="28.9" height="8.2" fill="#c9a227"/><rect x="775" y="286.1" width="24.4" height="8.2" fill="#1c7ec2"/><rect x="777" y="296.1" width="11.1" height="8.2" fill="#c9a227"/><rect x="788.1" y="296.1" width="11.3" height="8.2" fill="#1c7ec2"/><rect x="784.1" y="305.1" width="8.9" height="8.2" fill="#c9a227"/><rect x="793" y="305.1" width="6.4" height="8.2" fill="#1c7ec2"/><rect x="770" y="314.6" width="16" height="8.2" fill="#c9a227"/><rect x="786" y="314.6" width="13.4" height="8.2" fill="#1c7ec2"/><rect x="768.9" y="324.2" width="16.1" height="8.2" fill="#c9a227"/><rect x="785" y="324.2" width="14.4" height="8.2" fill="#1c7ec2"/><rect x="777" y="334.1" width="13" height="8.2" fill="#c9a227"/><rect x="790" y="334.1" width="9.4" height="8.2" fill="#1c7ec2"/><rect x="776" y="344" width="13" height="8.2" fill="#c9a227"/><rect x="789" y="344" width="10.4" height="8.2" fill="#1c7ec2"/><rect x="772" y="353.1" width="13" height="8.2" fill="#c9a227"/><rect x="785" y="353.1" width="14.4" height="8.2" fill="#1c7ec2"/><rect x="778.8" y="362.6" width="10.2" height="8.2" fill="#c9a227"/><rect x="789" y="362.6" width="10.4" height="8.2" fill="#1c7ec2"/><rect x="793.9" y="372.7" width="2.6" height="8.2" fill="#5c4b27"/><rect x="796.5" y="372.7" width="2.9" height="8.2" fill="#1b3f60"/><line x1="454.4" y1="179.4" x2="799.4" y2="179.4" stroke="#ffffff" stroke-width="1.3" stroke-dasharray="6.8 6.9" stroke-dashoffset="5.1"/><line x1="454.4" y1="203.7" x2="799.4" y2="203.7" stroke="#ffffff" stroke-width="1.4"/><line x1="454.4" y1="227.5" x2="799.4" y2="227.5" stroke="#ffffff" stroke-width="1.3" stroke-dasharray="6.8 6.9" stroke-dashoffset="5.1"/><line x1="634" y1="281.5" x2="799.4" y2="281.5" stroke="#2196f3" stroke-width="1.2" stroke-dasharray="6.4 7.33"/><line x1="627.2" y1="285.3" x2="799.4" y2="285.3" stroke="#2196f3" stroke-width="1.3"/><polyline points="454,262.5 475,256.5 500,251 520,248.5 560,246 600,247.5 640,250 665.5,252.5" fill="none" stroke="#0b600b" stroke-width="2.8" stroke-opacity="0.7" stroke-linejoin="round" /><polyline points="454,380.5 500,377 560,373.5 620,371 665.5,369" fill="none" stroke="#b00f0f" stroke-width="3" stroke-opacity="0.9" stroke-linejoin="round" /><polyline points="454,181 470,176 495,171.5 512,169.5 520,172 535,176.5 545,178 565,179.5 577,184 585,192 590,197 602,211 612,223 625,236 637,249 650,266 660,279 665.5,286" fill="none" stroke="#7a1818" stroke-width="1" stroke-linejoin="round" /><polyline points="454,226 475,214 497,201 509,196 520,189 535,184 549,181 565,178.5 580,175.5 601,174.5 611,177.5 623,184.5 637,194.5 648,202.5 665,215" fill="none" stroke="#1a1a80" stroke-width="1.3" stroke-linejoin="round" /><polyline points="454,172 462,175 480,176 507,174 520,175 530,179 539,183.5 545,187 552,192 560,201 571,217 580,232 590,254 600,269 614,286 627,290 640,302 653,314 665.5,326" fill="none" stroke="#0f6f0f" stroke-width="1.1" stroke-linejoin="round" /><polyline points="454,242.5 461,242 475,237.5 520,237.5 530,237 549,235 565,234 577,232 589,227.5 592,227.5 601,232.5" fill="none" stroke="#d500d5" stroke-width="1.8" stroke-linejoin="round" /><line x1="454.4" y1="291.1" x2="799.4" y2="291.1" stroke="#ff0000" stroke-width="2.3"/><polyline points="454,164.5 468,164.5" fill="none" stroke="#ff0000" stroke-width="1.2" stroke-linejoin="round" /><polyline points="468.5,175 468.5,178.5 481,178.5 483,180.5 494,180.5 494.5,186 509,186" fill="none" stroke="#ff0000" stroke-width="1.2" stroke-linejoin="round" /><polyline points="518.5,186.5 520,183.5 532.5,183.5 533,184.5 545.7,184.5" fill="none" stroke="#ff0000" stroke-width="1.2" stroke-linejoin="round" /><line x1="545.7" y1="198" x2="545.7" y2="266" stroke="#ff0000" stroke-width="1.4"/><polyline points="556,286.5 596.5,286.5 596.5,292.5 621,292.5 621,294.5 634.5,294.5 634.5,291" fill="none" stroke="#ff0000" stroke-width="1.2" stroke-linejoin="round" /><polyline points="454,187.5 471,187.5 484,190 500,192 509,193 520,205 526,212 537,216 549,224 580,225.5 589,225.5 592,231 600,248 614,249 627,268 640,282 653,283 665.5,286.5" fill="none" stroke="#00f000" stroke-width="1.6" stroke-linejoin="round" /><polyline points="454,158.2 469,158.2 469,173.2 481,173.2 481,171.6 494.7,171.6 494.7,175.5 507.5,175.5 507.5,173.2 519.5,173.2 519.5,158.2 545.7,158.2 545.7,197.6 571,197.6 571,203.5 584,203.5 584,216.5 596.5,216.5 596.5,214.2 608.7,214.2 608.7,230.3 621.8,230.3 621.8,253.4 634.5,253.4 634.5,258.4 646.6,258.4 646.6,268.5 665.5,268.5" fill="none" stroke="#0000ff" stroke-width="1.15" stroke-linejoin="round" /><polyline points="469,173 469,196.3 481.5,196.3 481.5,192.5 507.5,192.5 507.5,197.5 519.5,197.5 519.5,236.5 532.5,236.5 532.5,266 545.7,266 545.7,317.5 583.6,317.5 583.6,310.4 596.5,310.4 596.5,330.6 608.7,330.6 608.7,339.5 621.3,339.5 621.3,371.5 634.5,371.5 634.5,373.5 665.5,373.5" fill="none" stroke="#0000ff" stroke-width="1.15" stroke-linejoin="round" /><polyline points="454,161 475,161 488,173 509,189 519,198 520,212 526,223 537,226.5 549,234.5 565,237 589,238.5 600,264 614,264.5 627,295 640,319 650,320 665.5,328" fill="none" stroke="#0000ff" stroke-width="3" stroke-linejoin="round" /><polyline points="454,213.5 475,212 488,207.5 500,200.5 509,199.5 522,202 537,207 552,214 589,214 601,232.5" fill="none" stroke="#ff0000" stroke-width="3" stroke-linejoin="round" /><polyline points="601,232.5 614,232.5 627,240 640,245.5 666,245.5" fill="none" stroke="#ff10a0" stroke-width="2.5" stroke-linejoin="round" /><text x="529.4" y="253.8" font-size="14.5" fill="#2196f3" textLength="70" lengthAdjust="spacingAndGlyphs">Bearish OB</text><line x1="462.8" y1="157.9" x2="462.8" y2="168.4" stroke="#ef5350" stroke-width="1.2"/><rect x="458.95" y="168.4" width="7.7" height="22.1" fill="#000000" stroke="#ef5350" stroke-width="1.1"/><line x1="475.5" y1="169" x2="475.5" y2="174.2" stroke="#26a69a" stroke-width="1.2"/><line x1="475.5" y1="190.5" x2="475.5" y2="202.6" stroke="#26a69a" stroke-width="1.2"/><rect x="471.65" y="174.2" width="7.7" height="16.3" fill="#000000" stroke="#26a69a" stroke-width="1.1"/><line x1="488.2" y1="162.1" x2="488.2" y2="174.4" stroke="#ef5350" stroke-width="1.2"/><line x1="488.2" y1="188.4" x2="488.2" y2="192.6" stroke="#ef5350" stroke-width="1.2"/><rect x="484.35" y="174.4" width="7.7" height="14" fill="#000000" stroke="#ef5350" stroke-width="1.1"/><line x1="500.9" y1="178.2" x2="500.9" y2="185.3" stroke="#26a69a" stroke-width="1.2"/><line x1="500.9" y1="188.7" x2="500.9" y2="196.8" stroke="#26a69a" stroke-width="1.2"/><rect x="497.05" y="185.3" width="7.7" height="3.4" fill="#ff0000" stroke="#26a69a" stroke-width="1.1"/><line x1="513.6" y1="176.1" x2="513.6" y2="185.3" stroke="#ef5350" stroke-width="1.2"/><line x1="513.6" y1="225.6" x2="513.6" y2="230" stroke="#ef5350" stroke-width="1.2"/><rect x="509.75" y="185.3" width="7.7" height="40.3" fill="#ff0000" stroke="#ef5350" stroke-width="1.1"/><line x1="526.3" y1="224" x2="526.3" y2="225.3" stroke="#ef5350" stroke-width="1.2"/><line x1="526.3" y1="290.8" x2="526.3" y2="293.7" stroke="#ef5350" stroke-width="1.2"/><rect x="522.45" y="225.3" width="7.7" height="65.5" fill="#ff0000" stroke="#ef5350" stroke-width="1.1"/><line x1="539" y1="269.5" x2="539" y2="275.7" stroke="#26a69a" stroke-width="1.2"/><line x1="539" y1="290.6" x2="539" y2="302.8" stroke="#26a69a" stroke-width="1.2"/><rect x="535.15" y="275.7" width="7.7" height="14.9" fill="#ff0000" stroke="#26a69a" stroke-width="1.1"/><line x1="551.7" y1="260.2" x2="551.7" y2="275.7" stroke="#ef5350" stroke-width="1.2"/><line x1="551.7" y1="290.6" x2="551.7" y2="317.3" stroke="#ef5350" stroke-width="1.2"/><rect x="547.85" y="275.7" width="7.7" height="14.9" fill="#ff0000" stroke="#ef5350" stroke-width="1.1"/><line x1="564.4" y1="284" x2="564.4" y2="288.2" stroke="#ef5350" stroke-width="1.2"/><line x1="564.4" y1="290.6" x2="564.4" y2="300" stroke="#ef5350" stroke-width="1.2"/><rect x="560.55" y="288.2" width="7.7" height="2.4" fill="#000000" stroke="#ef5350" stroke-width="1.1"/><line x1="577.1" y1="285" x2="577.1" y2="288.6" stroke="#ef5350" stroke-width="1.2"/><line x1="577.1" y1="296.6" x2="577.1" y2="300.8" stroke="#ef5350" stroke-width="1.2"/><rect x="573.25" y="288.6" width="7.7" height="8" fill="#000000" stroke="#ef5350" stroke-width="1.1"/><line x1="589.8" y1="275" x2="589.8" y2="296.6" stroke="#ef5350" stroke-width="1.2"/><line x1="589.8" y1="304.7" x2="589.8" y2="310.5" stroke="#ef5350" stroke-width="1.2"/><rect x="585.95" y="296.6" width="7.7" height="8.1" fill="#000000" stroke="#ef5350" stroke-width="1.1"/><line x1="602.5" y1="298.3" x2="602.5" y2="304.3" stroke="#ef5350" stroke-width="1.2"/><line x1="602.5" y1="336.3" x2="602.5" y2="356" stroke="#ef5350" stroke-width="1.2"/><rect x="598.65" y="304.3" width="7.7" height="32" fill="#000000" stroke="#ef5350" stroke-width="1.1"/><line x1="615.2" y1="314" x2="615.2" y2="335.7" stroke="#ef5350" stroke-width="1.2"/><line x1="615.2" y1="337.6" x2="615.2" y2="338.6" stroke="#ef5350" stroke-width="1.2"/><rect x="611.35" y="335.7" width="7.7" height="1.9" fill="#ef5350" stroke="#ef5350" stroke-width="1.1"/><line x1="627.9" y1="329.3" x2="627.9" y2="337.2" stroke="#ef5350" stroke-width="1.2"/><line x1="627.9" y1="356.6" x2="627.9" y2="370.5" stroke="#ef5350" stroke-width="1.2"/><rect x="624.05" y="337.2" width="7.7" height="19.4" fill="#000000" stroke="#ef5350" stroke-width="1.1"/><line x1="640.6" y1="337.2" x2="640.6" y2="341.1" stroke="#26a69a" stroke-width="1.2"/><line x1="640.6" y1="356.6" x2="640.6" y2="381.6" stroke="#26a69a" stroke-width="1.2"/><rect x="636.75" y="341.1" width="7.7" height="15.5" fill="#ff0000" stroke="#26a69a" stroke-width="1.1"/><line x1="653.3" y1="310.1" x2="653.3" y2="317.7" stroke="#26a69a" stroke-width="1.2"/><line x1="653.3" y1="341.5" x2="653.3" y2="351.7" stroke="#26a69a" stroke-width="1.2"/><rect x="649.45" y="317.7" width="7.7" height="23.8" fill="#000000" stroke="#26a69a" stroke-width="1.1"/><line x1="666" y1="309" x2="666" y2="317.2" stroke="#26a69a" stroke-width="1.2"/><line x1="666" y1="318.2" x2="666" y2="318.8" stroke="#26a69a" stroke-width="1.2"/><rect x="662.15" y="317.2" width="7.7" height="1.2" fill="#26a69a" stroke="#26a69a" stroke-width="1.1"/><line x1="564.4" y1="270" x2="564.4" y2="300.8" stroke="#2196f3" stroke-width="1.6"/><polygon points="559.7,263.5 569.1,263.5 564.4,272.5" fill="#2196f3"/><rect x="559.4" y="279.3" width="10" height="4.2" fill="#2196f3" rx="2"/><line x1="556.5" y1="285" x2="579.8" y2="285" stroke="#2196f3" stroke-width="1.5"/><line x1="454.4" y1="317.7" x2="728" y2="317.7" stroke="#f7525f" stroke-width="1.3" stroke-dasharray="1.2 2"/><circle cx="475.5" cy="212.5" r="2.7" fill="#9e9e9e"/><circle cx="589.5" cy="265.5" r="2.7" fill="#9e9e9e"/><circle cx="551.5" cy="326.5" r="2.7" fill="#9e9e9e"/><circle cx="526.5" cy="320.5" r="4.5" fill="#9e9e9e"/><circle cx="564.4" cy="319" r="7.5" fill="#9e9e9e"/><circle cx="526.3" cy="198.3" r="5.5" fill="#00e5ff"/><circle cx="475.5" cy="248.3" r="5.5" fill="#00e5ff"/><circle cx="538.7" cy="330.3" r="7.5" fill="#00ff00"/><circle cx="589.5" cy="332.3" r="5.5" fill="#0a8a0a" fill-opacity="0.9"/><circle cx="615.5" cy="363.5" r="5.5" fill="#ff00ff"/><circle cx="640.5" cy="392.5" r="7.6" fill="#ff0000"/><circle cx="640.5" cy="392.5" r="4.2" fill="#ffffff"/><circle cx="665.5" cy="481.5" r="14.1" fill="#0c0e15"/><circle cx="665.5" cy="481.5" r="12.5" fill="#0f0f0f" stroke="#b84fd0" stroke-width="1.7"/><polygon points="668.8,475 670,475.2 666.5,480.5 670.9,480.7 670.9,481.5 662.4,488.4 661.5,487.9 664.8,482.5 660.2,482.4 660.2,481.5" fill="#b84fd0"/></g>
<g clip-path="url(#p2)"><line x1="454.4" y1="539.2" x2="799.4" y2="539.2" stroke="rgba(240,243,250,0.07)" stroke-width="1"/><line x1="454.4" y1="579.5" x2="799.4" y2="579.5" stroke="rgba(240,243,250,0.07)" stroke-width="1"/><line x1="454.4" y1="619.5" x2="799.4" y2="619.5" stroke="rgba(240,243,250,0.07)" stroke-width="1"/><line x1="454.4" y1="658.8" x2="799.4" y2="658.8" stroke="rgba(240,243,250,0.07)" stroke-width="1"/><line x1="454.4" y1="698.8" x2="799.4" y2="698.8" stroke="rgba(240,243,250,0.07)" stroke-width="1"/><line x1="454.4" y1="522.5" x2="666" y2="522.5" stroke="#0d6b0d" stroke-width="2.6"/><line x1="454.4" y1="714.5" x2="666" y2="714.5" stroke="#c01010" stroke-width="2.6"/><line x1="454.4" y1="618.6" x2="666" y2="618.6" stroke="#9598a1" stroke-width="1.6"/><rect x="461.3" y="618.6" width="2" height="5.8" fill="#e01515"/><rect x="474" y="618.6" width="2" height="11.7" fill="#e01515"/><rect x="486.7" y="618.6" width="2" height="14" fill="#e01515"/><rect x="499.4" y="618.6" width="2" height="17.3" fill="#e01515"/><rect x="512.1" y="618.6" width="2" height="28.1" fill="#e01515"/><rect x="524.8" y="618.6" width="2" height="36" fill="#e01515"/><rect x="537.5" y="618.6" width="2" height="31.4" fill="#7a0a0a"/><rect x="550.2" y="618.6" width="2" height="20.6" fill="#7a0a0a"/><rect x="562.9" y="618.6" width="2" height="14" fill="#7a0a0a"/><rect x="575.6" y="618.6" width="2" height="9.1" fill="#7a0a0a"/><rect x="588.3" y="618.6" width="2" height="5.8" fill="#7a0a0a"/><rect x="601" y="618.6" width="2" height="8.1" fill="#e01515"/><rect x="613.7" y="618.6" width="2" height="6.8" fill="#7a0a0a"/><rect x="626.4" y="618.6" width="2" height="8.1" fill="#e01515"/><rect x="639.1" y="618.6" width="2" height="5.8" fill="#7a0a0a"/><rect x="651.8" y="617" width="2" height="2.6" fill="#1fd81f"/><rect x="664.5" y="609.7" width="2" height="9.9" fill="#1fd81f"/><polyline points="454,553 462.5,559 475,568.5 487.5,576 500,590 513,614.5 525.5,640 538,655.5 551,665 563.5,671 576,674.5 589,677 602,684 615,687.5 627.5,692 640,694 653,687.5 666,679.5" fill="none" stroke="#0d6b0d" stroke-width="1.3" stroke-linejoin="round" /><polyline points="454,550.5 462.5,553.3 475,556.5 487.5,562.5 500,573 513,586.5 525.5,602.5 538,620.5 551,639 563.5,657.5 576,666.5 589,671.5 602,676.5 615,680.5 627.5,685 640,689.5 653,691 666,688.5" fill="none" stroke="#d01515" stroke-width="1.5" stroke-linejoin="round" /><circle cx="462.5" cy="553.3" r="2.3" fill="#e01515"/><circle cx="653.5" cy="691.5" r="2.5" fill="#22cc22"/></g>
<g clip-path="url(#q2)"><line x1="454.4" y1="764.3" x2="799.4" y2="764.3" stroke="rgba(240,243,250,0.07)" stroke-width="1"/><line x1="454.4" y1="825" x2="799.4" y2="825" stroke="rgba(240,243,250,0.07)" stroke-width="1"/><polyline points="454,748 462.5,750.5 475,747.5 487.5,749.5 500,749 513,761 525.5,803.5 538,795.5 551,801 563.5,801 576,802.5 589,804.5 602,820 615,820.5 627.5,830.5 640,824.5 653,818.5 666,818.5" fill="none" stroke="#2962ff" stroke-width="1.4" stroke-linejoin="round" /></g>
<g clip-path="url(#a2)"><text x="810.3" y="118" font-size="14.5" fill="#b2b5be" textLength="66" lengthAdjust="spacingAndGlyphs">76.000,00</text><text x="810.3" y="190" font-size="14.5" fill="#b2b5be" textLength="66" lengthAdjust="spacingAndGlyphs">74.000,00</text><text x="810.3" y="263.3" font-size="14.5" fill="#b2b5be" textLength="66" lengthAdjust="spacingAndGlyphs">72.000,00</text><text x="810.3" y="301.9" font-size="14.5" fill="#b2b5be" textLength="66" lengthAdjust="spacingAndGlyphs">71.000,00</text><text x="810.3" y="385.7" font-size="14.5" fill="#b2b5be" textLength="66" lengthAdjust="spacingAndGlyphs">68.800,00</text><text x="810.3" y="424.3" font-size="14.5" fill="#b2b5be" textLength="66" lengthAdjust="spacingAndGlyphs">67.800,00</text><text x="810.3" y="464.5" font-size="14.5" fill="#b2b5be" textLength="66" lengthAdjust="spacingAndGlyphs">66.800,00</text></g>
<g clip-path="url(#b2)"><text x="810.8" y="542.5" font-size="14.5" fill="#b2b5be" textLength="37.5" lengthAdjust="spacingAndGlyphs">50,00</text><text x="810.8" y="582.5" font-size="14.5" fill="#b2b5be" textLength="37.5" lengthAdjust="spacingAndGlyphs">25,00</text><text x="810.8" y="622.8" font-size="14.5" fill="#b2b5be" textLength="29.7" lengthAdjust="spacingAndGlyphs">0,00</text><text x="810.8" y="662.7" font-size="14.5" fill="#b2b5be" textLength="46" lengthAdjust="spacingAndGlyphs">−25,00</text><text x="810.8" y="702.4" font-size="14.5" fill="#b2b5be" textLength="46" lengthAdjust="spacingAndGlyphs">−50,00</text></g>
<g clip-path="url(#c2)"><text x="810.8" y="768.3" font-size="14.5" fill="#b2b5be" textLength="33" lengthAdjust="spacingAndGlyphs">7,6 K</text><text x="810.8" y="828.3" font-size="14.5" fill="#b2b5be" textLength="33" lengthAdjust="spacingAndGlyphs">7,4 K</text></g>
<line x1="799.4" y1="34.4" x2="799.4" y2="874.2" stroke="#2b2f3a" stroke-width="1"/><line x1="454.4" y1="840.4" x2="888.6" y2="840.4" stroke="#2b2f3a" stroke-width="1"/><line x1="454.4" y1="498.35" x2="888.6" y2="498.35" stroke="#05060f" stroke-width="2.8"/><line x1="454.4" y1="498.55" x2="888.6" y2="498.55" stroke="#eceef5" stroke-width="1.3"/><line x1="454.4" y1="735.3" x2="888.6" y2="735.3" stroke="#05060f" stroke-width="2.8"/><line x1="454.4" y1="735.5" x2="888.6" y2="735.5" stroke="#eceef5" stroke-width="1.3"/>
<g clip-path="url(#w2)"><path d="M731 307.3H881.2a3 3 0 0 1 3 3V343.1a3 3 0 0 1-3 3H799.4V327.9H731a3 3 0 0 1-3-3V310.3a3 3 0 0 1 3-3z" fill="#00ff00"/><line x1="799.4" y1="307.3" x2="799.4" y2="346.1" stroke="#1f6f2a" stroke-width="1"/><text x="733.2" y="322.6" font-size="14.5" fill="#000000" textLength="60.3" lengthAdjust="spacingAndGlyphs">BTCUSDT</text><text x="811.6" y="321.6" font-size="14.5" fill="#000000" textLength="64.4" lengthAdjust="spacingAndGlyphs">70.489,21</text><text x="811.6" y="339.7" font-size="14.5" fill="#063006" textLength="57.4" lengthAdjust="spacingAndGlyphs">02:21:46</text><text x="463.5" y="58.8" font-size="14.5" fill="#b2b5be" textLength="47" lengthAdjust="spacingAndGlyphs">Bitcoin</text><line x1="516.9" y1="60.4" x2="521.5" y2="48.2" stroke="#b2b5be" stroke-width="1.25"/><text x="528.7" y="58.8" font-size="14.5" fill="#b2b5be" textLength="59.7" lengthAdjust="spacingAndGlyphs">TetherUS</text><circle cx="595.5" cy="54.2" r="1.15" fill="#b2b5be"/><text x="602.3" y="58.8" font-size="14.5" fill="#b2b5be" textLength="16.3" lengthAdjust="spacingAndGlyphs">3h</text><circle cx="625.55" cy="54.2" r="1.15" fill="#b2b5be"/><text x="633.6" y="58.8" font-size="14.5" fill="#b2b5be" textLength="53" lengthAdjust="spacingAndGlyphs">Binance</text><text x="695" y="58.8" font-size="14.5" fill="#b2b5be" textLength="10.7" lengthAdjust="spacingAndGlyphs">O</text><text x="705.6" y="58.8" font-size="14.5" fill="#22ab94" textLength="66" lengthAdjust="spacingAndGlyphs">70.483,03</text><rect x="774" y="56.7" width="1.9" height="2.1" fill="#b2b5be"/><rect x="779.2" y="56.7" width="1.9" height="2.1" fill="#b2b5be"/><rect x="784.4" y="56.7" width="1.9" height="2.1" fill="#b2b5be"/><rect x="804.3" y="39" width="80" height="31.8" fill="#0f0f0f" rx="5" stroke="#3a3a3a" stroke-width="1"/><text x="814.6" y="59.9" font-size="15.5" fill="#d1d4dc" textLength="36" lengthAdjust="spacingAndGlyphs">USDT</text><text x="475.5" y="863.1" font-size="14.5" fill="#c8cad0" textLength="17" lengthAdjust="spacingAndGlyphs" text-anchor="middle" font-weight="bold">18</text><text x="576.6" y="863.1" font-size="14.5" fill="#c8cad0" textLength="17" lengthAdjust="spacingAndGlyphs" text-anchor="middle" font-weight="bold">19</text><text x="678.4" y="863.1" font-size="14.5" fill="#c8cad0" textLength="17" lengthAdjust="spacingAndGlyphs" text-anchor="middle" font-weight="bold">20</text><text x="780.3" y="863.1" font-size="14.5" fill="#c8cad0" textLength="17" lengthAdjust="spacingAndGlyphs" text-anchor="middle" font-weight="bold">21</text></g>
</g>
<g>
<rect x="895.4" y="34.4" width="434.2" height="839.8" fill="#131722"/><rect x="895.4" y="34.4" width="434.2" height="464.15" fill="url(#bg)"/><rect x="895.4" y="498.55" width="434.2" height="236.95" fill="url(#bg)"/><rect x="895.4" y="735.5" width="434.2" height="105.1" fill="url(#bg)"/><line x1="1055.4" y1="34.4" x2="1055.4" y2="840.6" stroke="rgba(240,243,250,0.07)" stroke-width="1"/><line x1="1228.5" y1="34.4" x2="1228.5" y2="840.6" stroke="rgba(240,243,250,0.07)" stroke-width="1"/>
<g clip-path="url(#m3)"><line x1="895.4" y1="64.4" x2="1240.3" y2="64.4" stroke="rgba(240,243,250,0.07)" stroke-width="1"/><line x1="895.4" y1="103.2" x2="1240.3" y2="103.2" stroke="rgba(240,243,250,0.07)" stroke-width="1"/><line x1="895.4" y1="167.3" x2="1240.3" y2="167.3" stroke="rgba(240,243,250,0.07)" stroke-width="1"/><line x1="895.4" y1="230.6" x2="1240.3" y2="230.6" stroke="rgba(240,243,250,0.07)" stroke-width="1"/><line x1="895.4" y1="294.3" x2="1240.3" y2="294.3" stroke="rgba(240,243,250,0.07)" stroke-width="1"/><line x1="895.4" y1="358.5" x2="1240.3" y2="358.5" stroke="rgba(240,243,250,0.07)" stroke-width="1"/><line x1="895.4" y1="407.4" x2="1240.3" y2="407.4" stroke="rgba(240,243,250,0.07)" stroke-width="1"/><line x1="895.4" y1="448.4" x2="1240.3" y2="448.4" stroke="rgba(240,243,250,0.07)" stroke-width="1"/><line x1="895.4" y1="488.5" x2="1240.3" y2="488.5" stroke="rgba(240,243,250,0.07)" stroke-width="1"/><text x="904" y="258.5" font-size="55" fill="#ffffff" textLength="271.3" lengthAdjust="spacingAndGlyphs" fill-opacity="0.07">BTCUSDT,</text><text x="1197.6" y="258.5" font-size="55" fill="#ffffff" textLength="29.9" lengthAdjust="spacingAndGlyphs" fill-opacity="0.07">7</text><text x="926.5" y="306.4" font-size="32.5" fill="#ffffff" textLength="280.3" lengthAdjust="spacingAndGlyphs" fill-opacity="0.07">Bitcoin / TetherUS</text><polygon points="995,385 998,365 1001,351 1006,348 1035,347 1041,343 1055,327 1061,316 1067,308.5 1075,311 1081,309.5 1087,300 1095,298 1108,297 1115,294.5 1120,291.5 1129,289 1141.2,285.5 1141.2,383.7 1115,384 1108,385.5 1087,386 1081,392 1035,391 1005,392.5 1001,396 998,398" fill="#10641a" fill-opacity="0.17"/><rect x="948.2" y="466.4" width="66.8" height="23.2" fill="#ff0000" rx="3"/><polygon points="973.25,466.9 981.5,458.1 989.75,466.9" fill="#ff0000"/><text x="956.6" y="480.3" font-size="12.5" fill="#ffffff" textLength="50.2" lengthAdjust="spacingAndGlyphs" stroke="#ffffff" stroke-width="0.45">Red Devil</text><rect x="891.7" y="471.6" width="5.7" height="26.95" fill="#26a69a" fill-opacity="0.5"/><rect x="898.4" y="453.2" width="5.7" height="45.35" fill="#26a69a" fill-opacity="0.5"/><rect x="905.1" y="472.2" width="5.7" height="26.35" fill="#ef5350" fill-opacity="0.5"/><rect x="911.8" y="483.8" width="5.7" height="14.75" fill="#26a69a" fill-opacity="0.5"/><rect x="918.5" y="480.9" width="5.7" height="17.65" fill="#26a69a" fill-opacity="0.5"/><rect x="925.2" y="445.5" width="5.7" height="53.05" fill="#26a69a" fill-opacity="0.5"/><rect x="931.9" y="473.2" width="5.7" height="25.35" fill="#ef5350" fill-opacity="0.5"/><rect x="938.6" y="480" width="5.7" height="18.55" fill="#26a69a" fill-opacity="0.5"/><rect x="945.3" y="462.9" width="5.7" height="35.65" fill="#26a69a" fill-opacity="0.5"/><rect x="952" y="482.3" width="5.7" height="16.25" fill="#ef5350" fill-opacity="0.5"/><rect x="958.7" y="467.8" width="5.7" height="30.75" fill="#ef5350" fill-opacity="0.5"/><rect x="965.4" y="485.2" width="5.7" height="13.35" fill="#26a69a" fill-opacity="0.5"/><rect x="972.1" y="486.2" width="5.7" height="12.35" fill="#26a69a" fill-opacity="0.5"/><rect x="978.8" y="480.3" width="5.7" height="18.25" fill="#26a69a" fill-opacity="0.5"/><rect x="985.5" y="481.3" width="5.7" height="17.25" fill="#26a69a" fill-opacity="0.5"/><rect x="992.2" y="432" width="5.7" height="66.55" fill="#26a69a" fill-opacity="0.5"/><rect x="998.9" y="382" width="5.7" height="116.55" fill="#26a69a" fill-opacity="0.5"/><rect x="1005.6" y="416.5" width="5.7" height="82.05" fill="#26a69a" fill-opacity="0.5"/><rect x="1012.3" y="441" width="5.7" height="57.55" fill="#ef5350" fill-opacity="0.5"/><rect x="1019" y="457.1" width="5.7" height="41.45" fill="#ef5350" fill-opacity="0.5"/><rect x="1025.7" y="467.2" width="5.7" height="31.35" fill="#26a69a" fill-opacity="0.5"/><rect x="1032.4" y="475.1" width="5.7" height="23.45" fill="#ef5350" fill-opacity="0.5"/><rect x="1039.1" y="467.2" width="5.7" height="31.35" fill="#ef5350" fill-opacity="0.5"/><rect x="1045.8" y="477.1" width="5.7" height="21.45" fill="#26a69a" fill-opacity="0.5"/><rect x="1052.5" y="485.2" width="5.7" height="13.35" fill="#ef5350" fill-opacity="0.5"/><rect x="1059.2" y="481.3" width="5.7" height="17.25" fill="#26a69a" fill-opacity="0.5"/><rect x="1065.9" y="441" width="5.7" height="57.55" fill="#26a69a" fill-opacity="0.5"/><rect x="1072.6" y="487.1" width="5.7" height="11.45" fill="#26a69a" fill-opacity="0.5"/><rect x="1079.3" y="482.3" width="5.7" height="16.25" fill="#26a69a" fill-opacity="0.5"/><rect x="1086" y="472.2" width="5.7" height="26.35" fill="#ef5350" fill-opacity="0.5"/><rect x="1092.7" y="480" width="5.7" height="18.55" fill="#ef5350" fill-opacity="0.5"/><rect x="1099.4" y="477.1" width="5.7" height="21.45" fill="#26a69a" fill-opacity="0.5"/><rect x="1106.1" y="480" width="5.7" height="18.55" fill="#26a69a" fill-opacity="0.5"/><rect x="1112.8" y="474.2" width="5.7" height="24.35" fill="#26a69a" fill-opacity="0.5"/><rect x="1119.5" y="477.1" width="5.7" height="21.45" fill="#ef5350" fill-opacity="0.5"/><rect x="1126.2" y="478.4" width="5.7" height="20.15" fill="#26a69a" fill-opacity="0.5"/><rect x="1132.9" y="491" width="5.7" height="7.55" fill="#ef5350" fill-opacity="0.5"/><rect x="1139.6" y="495.8" width="5.7" height="2.75" fill="#26a69a" fill-opacity="0.5"/><polyline points="895,440 910,443 929,444.5 942,460.5 955,464 968,466.5 981,469 994,469 1000,466 1008,462 1015,460.5 1028,461.5 1042,461.5 1055,462 1061,464 1068,462.5 1082,463 1095,463.5 1108,463 1121,462.5 1128,465 1135,468.5" fill="none" stroke="#f0994a" stroke-width="1.2" stroke-linejoin="round" /><rect x="1226" y="231.3" width="5.1" height="8.5" fill="#c9a227"/><rect x="1231.1" y="231.3" width="9.2" height="8.5" fill="#1c7ec2"/><rect x="1224" y="241.2" width="9.1" height="8.5" fill="#c9a227"/><rect x="1233.1" y="241.2" width="7.2" height="8.5" fill="#1c7ec2"/><rect x="1203" y="251.2" width="20.6" height="8.5" fill="#c9a227"/><rect x="1223.6" y="251.2" width="16.7" height="8.5" fill="#1c7ec2"/><rect x="1196" y="261.2" width="22" height="8.5" fill="#c9a227"/><rect x="1218" y="261.2" width="22.3" height="8.5" fill="#1c7ec2"/><rect x="1198.9" y="271.2" width="13" height="8.5" fill="#c9a227"/><rect x="1211.9" y="271.2" width="28.4" height="8.5" fill="#1c7ec2"/><rect x="1199.9" y="281.3" width="20" height="8.5" fill="#c9a227"/><rect x="1219.9" y="281.3" width="20.4" height="8.5" fill="#1c7ec2"/><rect x="1205.1" y="291.1" width="17.8" height="8.5" fill="#c9a227"/><rect x="1222.9" y="291.1" width="17.4" height="8.5" fill="#1c7ec2"/><rect x="1208.9" y="301.1" width="15.1" height="8.5" fill="#c9a227"/><rect x="1224" y="301.1" width="16.3" height="8.5" fill="#1c7ec2"/><rect x="1228.1" y="311.2" width="5" height="8.5" fill="#c9a227"/><rect x="1233.1" y="311.2" width="7.2" height="8.5" fill="#1c7ec2"/><rect x="1229" y="321.2" width="3" height="8.5" fill="#c9a227"/><rect x="1232" y="321.2" width="8.3" height="8.5" fill="#1c7ec2"/><rect x="1234.1" y="331.2" width="6.2" height="8.5" fill="#1c7ec2"/><rect x="1232" y="341.1" width="1.8" height="8.5" fill="#c9a227"/><rect x="1233.8" y="341.1" width="6.5" height="8.5" fill="#1c7ec2"/><rect x="1230" y="351" width="3.8" height="8.5" fill="#c9a227"/><rect x="1233.8" y="351" width="6.5" height="8.5" fill="#1c7ec2"/><rect x="1211.9" y="361.2" width="8" height="8.5" fill="#5c4b27"/><rect x="1219.9" y="361.2" width="20.4" height="8.5" fill="#1b3f60"/><rect x="1214" y="371.2" width="10" height="8.5" fill="#5c4b27"/><rect x="1224" y="371.2" width="16.3" height="8.5" fill="#1b3f60"/><rect x="1222.9" y="381.2" width="10.2" height="8.5" fill="#5c4b27"/><rect x="1233.1" y="381.2" width="7.2" height="8.5" fill="#1b3f60"/><rect x="1207.1" y="391" width="17.8" height="8.5" fill="#5c4b27"/><rect x="1224.9" y="391" width="15.4" height="8.5" fill="#1b3f60"/><rect x="1220.8" y="401" width="8.2" height="8.5" fill="#5c4b27"/><rect x="1229" y="401" width="11.3" height="8.5" fill="#1b3f60"/><rect x="1232" y="411.1" width="3.9" height="8.5" fill="#5c4b27"/><rect x="1235.9" y="411.1" width="4.4" height="8.5" fill="#1b3f60"/><rect x="1237.9" y="421" width="2.4" height="8.5" fill="#1b3f60"/><rect x="1238.2" y="431" width="2.1" height="8.5" fill="#1b3f60"/><rect x="1238.5" y="441" width="1.8" height="8.5" fill="#1b3f60"/><rect x="1238.5" y="451" width="1.8" height="8.5" fill="#1b3f60"/><rect x="1238.8" y="461" width="1.5" height="8.5" fill="#1b3f60"/><line x1="895.4" y1="349.5" x2="1240.3" y2="349.5" stroke="#2196f3" stroke-width="1.2" stroke-dasharray="6.4 7.33"/><line x1="895.4" y1="377.6" x2="1240.3" y2="377.6" stroke="#2196f3" stroke-width="1.3"/><line x1="895.4" y1="404.4" x2="1240.3" y2="404.4" stroke="#2196f3" stroke-width="1.2" stroke-dasharray="6.4 7.33"/><line x1="995" y1="385.6" x2="1236" y2="385.6" stroke="#ffffff" stroke-width="1.3" stroke-dasharray="6.8 6.9"/><line x1="995" y1="394.4" x2="1236" y2="394.4" stroke="#ffffff" stroke-width="1.6"/><line x1="995" y1="403.5" x2="1236" y2="403.5" stroke="#ffffff" stroke-width="1.3" stroke-dasharray="6.8 6.9"/><polyline points="895,283 901.5,281.5 909,258.5 915,261.5 921.5,268.5 926,266.5 941.5,233 948.5,252 955,251 961,264.5 968.5,264.5" fill="none" stroke="#dcdcdc" stroke-width="1.2" stroke-linejoin="round" /><polyline points="895,258.5 915,264 935,269 960,273 1000,278.5 1030,282 1055,284.5 1073,286 1100,289 1125,291 1142,292" fill="none" stroke="#c00f14" stroke-width="3" stroke-opacity="0.85" stroke-linejoin="round" /><polyline points="895,422 915,428 940,429 985,424 1000,415 1015,408 1035,403.5 1055,396 1075,389 1087,381 1108,371.5 1120,364 1130,357 1141.2,350" fill="none" stroke="#0b600b" stroke-width="2.8" stroke-opacity="0.7" stroke-linejoin="round" /><polyline points="925,430 940,410 950,395 960,383 970,376 978,377 985,383 995,388 1003,391 1010,388 1016,375 1021,350 1027,325 1033,310 1040,300 1050,292 1058,290 1067,293.5 1075,292.5 1082,295 1088,296.5 1095,291.5 1101,284 1108,275 1113,271.5 1120,266 1130,258 1142,250" fill="none" stroke="#0f6f0f" stroke-width="1.1" stroke-linejoin="round" /><polyline points="950,430 960,410 975,390 985,383 1000,381 1010,384 1020,383 1030,373 1040,355 1050,335 1060,317 1065,305 1075,295 1082,290.5 1095,293.5 1108,292 1120,285.5 1129,279.5 1136,275 1142,269" fill="none" stroke="#7a1818" stroke-width="1" stroke-linejoin="round" /><polyline points="1015,400 1030,392 1045,380 1060,363 1075,352 1087,338 1095,332 1108,315 1125,296 1130,291" fill="none" stroke="#1a1a80" stroke-width="1.2" stroke-linejoin="round" /><polyline points="898.5,437 915,438 930,437 950,430" fill="none" stroke="#7a1818" stroke-width="1" stroke-linejoin="round" /><polyline points="898.5,440 910,449 920,444 925,430" fill="none" stroke="#0f6f0f" stroke-width="1" stroke-linejoin="round" /><polyline points="898.5,443 915,450 935,447 960,440 985,432 1015,400" fill="none" stroke="#1a1a80" stroke-width="1.2" stroke-linejoin="round" /><line x1="898.5" y1="432.5" x2="898.5" y2="457" stroke="#0000ff" stroke-width="1.15"/><polyline points="898.5,420.5 905,421 915,425.5 985,425.5 993,421 998,411 1001,396 1005,392.5 1035,391 1081,392 1087,386 1108,385.5 1115,384 1142,383.7" fill="none" stroke="#d500d5" stroke-width="1.6" stroke-linejoin="round" /><polyline points="1060,285.4 1083,285.4" fill="none" stroke="#d500d5" stroke-width="1.8" stroke-linejoin="round" /><line x1="895.4" y1="266" x2="1240.3" y2="266" stroke="#ff0000" stroke-width="2.3"/><line x1="895.4" y1="264.3" x2="1169" y2="264.3" stroke="#ffffff" stroke-width="1" stroke-dasharray="1.1 2.1" stroke-opacity="0.55"/><polyline points="900,400.5 912,400.5 912,405 932,405 932.5,368.5 971.5,368.5 971.5,398.5 998,398.5 998,393.5 1011.5,393.5 1011.5,401.5 1025,401.5" fill="none" stroke="#ff0000" stroke-width="1.2" stroke-linejoin="round" /><line x1="1025.3" y1="294" x2="1025.3" y2="377" stroke="#ff0000" stroke-width="1.4"/><polyline points="1031,289.5 1046,289.5 1046,298 1065,298 1065,279.5 1098.5,279.5 1098.5,269.5 1111.5,269.5 1111.5,266" fill="none" stroke="#ff0000" stroke-width="1.2" stroke-linejoin="round" /><polyline points="898.5,441 921,440 927,435 938,425 945,424 950,421.5 955,416 968,415.5 975,412.5 979,402 982,398 991,397.5 995,385 998,365 1001,351 1006,348 1035,347 1041,343 1055,327 1061,316 1067,308.5 1075,311 1081,309.5 1087,300 1095,298 1108,297 1115,294.5 1120,291.5 1129,289 1141.2,285.5" fill="none" stroke="#00f000" stroke-width="1.6" stroke-linejoin="round" /><polyline points="898.5,432 898.5,384.5 912.5,384.5 912.5,388 925.5,388 925.5,360.5 945.5,360.5 945.5,355.5 958.5,355.5 958.5,360.5 971.7,360.5 971.7,365.7 978.5,365.7 978.5,370.5 985,370.5 985,367 992,367" fill="none" stroke="#0000ff" stroke-width="1.15" stroke-linejoin="round" /><polyline points="905,432 905,422.5 918.5,422.5 918.5,419 932.5,419 932.5,406.5 945.5,406.5 945.5,401.5 971.5,401.5 971.5,406.5 978.5,406.5 978.5,411 985,411 985,406.5 998.5,406.5 998.5,417 1025.5,417 1025.5,378 1038.5,378 1038.5,368.5 1085.5,368.3 1085.5,363.5 1111.5,363.5 1111.5,361.5 1141.5,361.5" fill="none" stroke="#0000ff" stroke-width="1.15" stroke-linejoin="round" /><polyline points="1005,312 1005,304.4 1011.8,304.4 1011.8,293.5 1025.5,293.5 1025.5,247.5 1085.5,247.5 1085.5,244.2 1111.5,244.2 1111.5,231.5 1141.7,231.5" fill="none" stroke="#0000ff" stroke-width="1.15" stroke-linejoin="round" /><polyline points="897,435.5 907,433.5 921,431 925,425 929,418.5 939,417.5 947,412.5 950,403 953,395 956,387.5 966,386 975,381.5 981,380 986,382 992,378 996,360 1000,339 1005,330 1017,328.5 1035,328.5 1041,322 1046,309 1048,297 1061,283 1068,283.5 1081,284.5 1087,274.5 1095,272.5 1108,271 1113,268 1120,262 1129,258 1142,251.5" fill="none" stroke="#0000ff" stroke-width="3" stroke-linejoin="round" /><polyline points="896.5,400 896.5,447.5 900,447.5 975,444 991,418 998,398 1000,374 1004,367.5 1012,365.5 1055,365.5 1061,360 1065,345 1067,336 1081,335.5 1087,325 1095,322 1108,321.5 1115,320.5 1142,320.5" fill="none" stroke="#ff0000" stroke-width="3" stroke-linejoin="round" /><line x1="894.5" y1="400" x2="894.5" y2="409" stroke="#26a69a" stroke-width="1.1"/><rect x="892.7" y="409" width="3.6" height="62" fill="#000000" stroke="#26a69a" stroke-width="1"/><line x1="901.2" y1="384.2" x2="901.2" y2="397.5" stroke="#26a69a" stroke-width="1.1"/><line x1="901.2" y1="409.5" x2="901.2" y2="413" stroke="#26a69a" stroke-width="1.1"/><rect x="899.4" y="397.5" width="3.6" height="12" fill="#00ff00" stroke="#26a69a" stroke-width="1"/><line x1="907.9" y1="380" x2="907.9" y2="397.5" stroke="#ef5350" stroke-width="1.1"/><line x1="907.9" y1="418.4" x2="907.9" y2="421" stroke="#ef5350" stroke-width="1.1"/><rect x="906.1" y="397.5" width="3.6" height="20.9" fill="#00ff00" stroke="#ef5350" stroke-width="1"/><line x1="914.6" y1="405.4" x2="914.6" y2="411.1" stroke="#26a69a" stroke-width="1.1"/><line x1="914.6" y1="418.4" x2="914.6" y2="423.9" stroke="#26a69a" stroke-width="1.1"/><rect x="912.8" y="411.1" width="3.6" height="7.3" fill="#00ff00" stroke="#26a69a" stroke-width="1"/><line x1="921.3" y1="411.5" x2="921.3" y2="415.7" stroke="#26a69a" stroke-width="1.1"/><rect x="919.5" y="384.2" width="3.6" height="27.3" fill="#00ff00" stroke="#26a69a" stroke-width="1"/><line x1="928" y1="350" x2="928" y2="363.2" stroke="#26a69a" stroke-width="1.1"/><rect x="926.2" y="363.2" width="3.6" height="21.3" fill="#00ff00" stroke="#26a69a" stroke-width="1"/><line x1="934.7" y1="382.5" x2="934.7" y2="387.6" stroke="#ef5350" stroke-width="1.1"/><rect x="932.9" y="363.2" width="3.6" height="19.3" fill="#000000" stroke="#ef5350" stroke-width="1"/><line x1="941.4" y1="369.1" x2="941.4" y2="378.3" stroke="#26a69a" stroke-width="1.1"/><line x1="941.4" y1="382.8" x2="941.4" y2="383.8" stroke="#26a69a" stroke-width="1.1"/><rect x="939.6" y="378.3" width="3.6" height="4.5" fill="#000000" stroke="#26a69a" stroke-width="1"/><line x1="948.1" y1="354.1" x2="948.1" y2="375.3" stroke="#26a69a" stroke-width="1.1"/><line x1="948.1" y1="379" x2="948.1" y2="380.8" stroke="#26a69a" stroke-width="1.1"/><rect x="946.3" y="375.3" width="3.6" height="3.7" fill="#000000" stroke="#26a69a" stroke-width="1"/><line x1="954.8" y1="369.1" x2="954.8" y2="375.3" stroke="#ef5350" stroke-width="1.1"/><rect x="953" y="375.3" width="3.6" height="10.2" fill="#000000" stroke="#ef5350" stroke-width="1"/><rect x="959.7" y="384.9" width="3.6" height="10.9" fill="#ff0000" stroke="#ffffff" stroke-width="1"/><line x1="968.2" y1="382" x2="968.2" y2="393" stroke="#26a69a" stroke-width="1.1"/><line x1="968.2" y1="395.4" x2="968.2" y2="406.8" stroke="#26a69a" stroke-width="1.1"/><rect x="966.4" y="393" width="3.6" height="2.4" fill="#ff0000" stroke="#26a69a" stroke-width="1"/><line x1="974.9" y1="386" x2="974.9" y2="393.5" stroke="#26a69a" stroke-width="1.1"/><line x1="974.9" y1="394.5" x2="974.9" y2="398.5" stroke="#26a69a" stroke-width="1.1"/><rect x="973.1" y="393.5" width="3.6" height="1.2" fill="#26a69a" stroke="#26a69a" stroke-width="1"/><line x1="981.6" y1="384.9" x2="981.6" y2="392.8" stroke="#26a69a" stroke-width="1.1"/><line x1="981.6" y1="393.8" x2="981.6" y2="410.2" stroke="#26a69a" stroke-width="1.1"/><rect x="979.8" y="392.8" width="3.6" height="1.2" fill="#26a69a" stroke="#26a69a" stroke-width="1"/><line x1="988.3" y1="392.4" x2="988.3" y2="394.5" stroke="#26a69a" stroke-width="1.1"/><rect x="986.5" y="366.4" width="3.6" height="26" fill="#000000" stroke="#26a69a" stroke-width="1"/><line x1="995" y1="308.2" x2="995" y2="332.8" stroke="#26a69a" stroke-width="1.1"/><rect x="993.2" y="332.8" width="3.6" height="33.9" fill="#00ff00" stroke="#26a69a" stroke-width="1"/><line x1="1001.7" y1="253.9" x2="1001.7" y2="285.4" stroke="#26a69a" stroke-width="1.1"/><line x1="1001.7" y1="333.5" x2="1001.7" y2="339" stroke="#26a69a" stroke-width="1.1"/><rect x="999.9" y="285.4" width="3.6" height="48.1" fill="#00ff00" stroke="#26a69a" stroke-width="1"/><line x1="1008.4" y1="249" x2="1008.4" y2="265.5" stroke="#26a69a" stroke-width="1.1"/><line x1="1008.4" y1="285.4" x2="1008.4" y2="303.4" stroke="#26a69a" stroke-width="1.1"/><rect x="1006.6" y="265.5" width="3.6" height="19.9" fill="#00ff00" stroke="#26a69a" stroke-width="1"/><line x1="1015.1" y1="247" x2="1015.1" y2="265.5" stroke="#ef5350" stroke-width="1.1"/><line x1="1015.1" y1="302.2" x2="1015.1" y2="306" stroke="#ef5350" stroke-width="1.1"/><rect x="1013.3" y="265.5" width="3.6" height="36.7" fill="#00ff00" stroke="#ef5350" stroke-width="1"/><line x1="1021.8" y1="272" x2="1021.8" y2="302.5" stroke="#ef5350" stroke-width="1.1"/><line x1="1021.8" y1="313.7" x2="1021.8" y2="315.7" stroke="#ef5350" stroke-width="1.1"/><rect x="1020" y="302.5" width="3.6" height="11.2" fill="#000000" stroke="#ef5350" stroke-width="1"/><rect x="1026.7" y="271.7" width="3.6" height="42.7" fill="#000000" stroke="#26a69a" stroke-width="1"/><line x1="1035.2" y1="262.8" x2="1035.2" y2="271.4" stroke="#ef5350" stroke-width="1.1"/><line x1="1035.2" y1="283.6" x2="1035.2" y2="285" stroke="#ef5350" stroke-width="1.1"/><rect x="1033.4" y="271.4" width="3.6" height="12.2" fill="#ff0000" stroke="#ef5350" stroke-width="1"/><line x1="1041.9" y1="309.6" x2="1041.9" y2="313.7" stroke="#ef5350" stroke-width="1.1"/><rect x="1040.1" y="283.3" width="3.6" height="26.3" fill="#ff0000" stroke="#ef5350" stroke-width="1"/><line x1="1048.6" y1="293" x2="1048.6" y2="297.7" stroke="#26a69a" stroke-width="1.1"/><rect x="1046.8" y="297.7" width="3.6" height="11.9" fill="#ff0000" stroke="#26a69a" stroke-width="1"/><line x1="1055.3" y1="291" x2="1055.3" y2="297" stroke="#ef5350" stroke-width="1.1"/><line x1="1055.3" y1="303.6" x2="1055.3" y2="308.9" stroke="#ef5350" stroke-width="1.1"/><rect x="1053.5" y="297" width="3.6" height="6.6" fill="#ff0000" stroke="#ef5350" stroke-width="1"/><line x1="1062" y1="276.2" x2="1062" y2="289.5" stroke="#26a69a" stroke-width="1.1"/><line x1="1062" y1="303.4" x2="1062" y2="309.6" stroke="#26a69a" stroke-width="1.1"/><rect x="1060.2" y="289.5" width="3.6" height="13.9" fill="#000000" stroke="#26a69a" stroke-width="1"/><line x1="1068.7" y1="257.3" x2="1068.7" y2="284.7" stroke="#26a69a" stroke-width="1.1"/><line x1="1068.7" y1="289.5" x2="1068.7" y2="293" stroke="#26a69a" stroke-width="1.1"/><rect x="1066.9" y="284.7" width="3.6" height="4.8" fill="#000000" stroke="#26a69a" stroke-width="1"/><line x1="1075.4" y1="275.1" x2="1075.4" y2="282.4" stroke="#26a69a" stroke-width="1.1"/><line x1="1075.4" y1="284.3" x2="1075.4" y2="290.9" stroke="#26a69a" stroke-width="1.1"/><rect x="1073.6" y="282.4" width="3.6" height="1.9" fill="#000000" stroke="#26a69a" stroke-width="1"/><line x1="1082.1" y1="256.6" x2="1082.1" y2="258.3" stroke="#26a69a" stroke-width="1.1"/><rect x="1080.3" y="258.3" width="3.6" height="24.4" fill="#00ff00" stroke="#26a69a" stroke-width="1"/><line x1="1088.8" y1="234" x2="1088.8" y2="258.3" stroke="#ef5350" stroke-width="1.1"/><line x1="1088.8" y1="261.7" x2="1088.8" y2="262.8" stroke="#ef5350" stroke-width="1.1"/><rect x="1087" y="258.3" width="3.6" height="3.4" fill="#00ff00" stroke="#ef5350" stroke-width="1"/><line x1="1095.5" y1="257" x2="1095.5" y2="261.4" stroke="#ef5350" stroke-width="1.1"/><line x1="1095.5" y1="269.7" x2="1095.5" y2="273" stroke="#ef5350" stroke-width="1.1"/><rect x="1093.7" y="261.4" width="3.6" height="8.3" fill="#00ff00" stroke="#ef5350" stroke-width="1"/><line x1="1102.2" y1="260" x2="1102.2" y2="265.5" stroke="#26a69a" stroke-width="1.1"/><line x1="1102.2" y1="269.7" x2="1102.2" y2="270.3" stroke="#26a69a" stroke-width="1.1"/><rect x="1100.4" y="265.5" width="3.6" height="4.2" fill="#ff0000" stroke="#26a69a" stroke-width="1"/><line x1="1108.9" y1="247.8" x2="1108.9" y2="251.2" stroke="#26a69a" stroke-width="1.1"/><line x1="1108.9" y1="265.5" x2="1108.9" y2="269" stroke="#26a69a" stroke-width="1.1"/><rect x="1107.1" y="251.2" width="3.6" height="14.3" fill="#ff0000" stroke="#26a69a" stroke-width="1"/><line x1="1115.6" y1="231" x2="1115.6" y2="233.4" stroke="#26a69a" stroke-width="1.1"/><rect x="1113.8" y="233.4" width="3.6" height="18" fill="#ff0000" stroke="#26a69a" stroke-width="1"/><line x1="1122.3" y1="231" x2="1122.3" y2="233.1" stroke="#ef5350" stroke-width="1.1"/><line x1="1122.3" y1="252.5" x2="1122.3" y2="253.2" stroke="#ef5350" stroke-width="1.1"/><rect x="1120.5" y="233.1" width="3.6" height="19.4" fill="#ff0000" stroke="#ef5350" stroke-width="1"/><line x1="1129" y1="243.9" x2="1129" y2="250.9" stroke="#26a69a" stroke-width="1.1"/><line x1="1129" y1="252.5" x2="1129" y2="260" stroke="#26a69a" stroke-width="1.1"/><rect x="1127.2" y="250.9" width="3.6" height="1.6" fill="#26a69a" stroke="#26a69a" stroke-width="1"/><line x1="1135.7" y1="247.8" x2="1135.7" y2="251.2" stroke="#ef5350" stroke-width="1.1"/><line x1="1135.7" y1="266.2" x2="1135.7" y2="272" stroke="#ef5350" stroke-width="1.1"/><rect x="1133.9" y="251.2" width="3.6" height="15" fill="#ff0000" stroke="#ef5350" stroke-width="1"/><line x1="1142.4" y1="257" x2="1142.4" y2="264.6" stroke="#26a69a" stroke-width="1.1"/><rect x="1140.6" y="264.6" width="3.6" height="1.9" fill="#ff0000" stroke="#26a69a" stroke-width="1"/><line x1="961.5" y1="378" x2="961.5" y2="419" stroke="#ffffff" stroke-width="1.6"/><line x1="946" y1="394" x2="978" y2="394" stroke="#ffffff" stroke-width="1.8"/><polygon points="961.5,408.5 956.7,420 966.3,420" fill="#ffffff"/><rect x="959" y="401.5" width="5" height="3.4" fill="#ffffff" rx="1.5"/><circle cx="1015.5" cy="238.5" r="2.7" fill="#9e9e9e"/><circle cx="1035.5" cy="255.5" r="2.7" fill="#9e9e9e"/><circle cx="928.5" cy="341.5" r="2.7" fill="#9e9e9e"/><circle cx="908.5" cy="371.5" r="2.7" fill="#9e9e9e"/><circle cx="1021.5" cy="325.5" r="2.7" fill="#9e9e9e"/><circle cx="1041.5" cy="322.5" r="2.7" fill="#9e9e9e"/><circle cx="1088.5" cy="226.5" r="2.7" fill="#9e9e9e"/><circle cx="1121.5" cy="223.5" r="2.7" fill="#9e9e9e"/><circle cx="915.7" cy="433.5" r="2.7" fill="#9e9e9e"/><circle cx="1001.5" cy="229.5" r="4.5" fill="#9e9e9e"/><circle cx="1015.5" cy="222.5" r="7.5" fill="#00ff00"/><circle cx="1015.5" cy="229.5" r="7.5" fill="#9e9e9e"/><circle cx="1015.5" cy="229.5" r="4.5" fill="#a52a2a"/><circle cx="1015.5" cy="222.5" r="4.5" fill="#ffffff"/><circle cx="1088.6" cy="210.7" r="7.5" fill="#00ff00"/><circle cx="1088.6" cy="210.7" r="4.5" fill="#ffffff"/><circle cx="1121.5" cy="208" r="7.5" fill="#00ff00"/><circle cx="1121.5" cy="213.5" r="5.5" fill="#0000ff"/><circle cx="908.5" cy="354.5" r="7.5" fill="#00ff00"/><circle cx="948.3" cy="345.3" r="4.7" fill="#ffffff"/><circle cx="948.3" cy="345.3" r="2.7" fill="#9e9e9e"/><circle cx="981.5" cy="417.5" r="7.5" fill="#ff0000"/><circle cx="981.5" cy="424.5" r="7.5" fill="#ffa040"/><circle cx="981.5" cy="419.5" r="2.7" fill="#9e9e9e"/><circle cx="895" cy="494" r="5" fill="#1f9f3f" fill-opacity="0.55"/><polygon points="978,498.4 981.5,494.3 985,498.4" fill="#b8b060" fill-opacity="0.8"/><text x="929.2" y="440.7" font-size="14.5" fill="#ffffff" textLength="65.8" lengthAdjust="spacingAndGlyphs" stroke="#ffffff" stroke-width="0.45">Bullish OB</text><rect x="982.1" y="146.3" width="66.9" height="23.5" fill="#a15f04" rx="3"/><polygon points="1007.3,169.3 1015.5,178 1023.7,169.3" fill="#a15f04"/><text x="989.5" y="163.1" font-size="12.5" fill="#ffffff" textLength="50.7" lengthAdjust="spacingAndGlyphs" stroke="#ffffff" stroke-width="0.45">BB Kombi</text><rect x="1076.3" y="147" width="90.5" height="23.8" fill="#0000ff" rx="3"/><polygon points="1113.6,170.3 1121.4,178.7 1129.2,170.3" fill="#0000ff"/><text x="1084.5" y="163.1" font-size="12.5" fill="#ffffff" textLength="74.4" lengthAdjust="spacingAndGlyphs" stroke="#ffffff" stroke-width="0.45">Ultimate Blue</text><circle cx="1141.5" cy="481.5" r="14.1" fill="#0c0e15"/><circle cx="1141.5" cy="481.5" r="12.5" fill="#0f0f0f" stroke="#b84fd0" stroke-width="1.7"/><polygon points="1144.8,475 1146,475.2 1142.5,480.5 1146.9,480.7 1146.9,481.5 1138.4,488.4 1137.5,487.9 1140.8,482.5 1136.2,482.4 1136.2,481.5" fill="#b84fd0"/></g>
<g clip-path="url(#p3)"><line x1="895.4" y1="539.2" x2="1240.3" y2="539.2" stroke="rgba(240,243,250,0.07)" stroke-width="1"/><line x1="895.4" y1="578.8" x2="1240.3" y2="578.8" stroke="rgba(240,243,250,0.07)" stroke-width="1"/><line x1="895.4" y1="619" x2="1240.3" y2="619" stroke="rgba(240,243,250,0.07)" stroke-width="1"/><line x1="895.4" y1="659.2" x2="1240.3" y2="659.2" stroke="rgba(240,243,250,0.07)" stroke-width="1"/><line x1="895.4" y1="699.4" x2="1240.3" y2="699.4" stroke="rgba(240,243,250,0.07)" stroke-width="1"/><line x1="895.4" y1="522.5" x2="1142" y2="522.5" stroke="#0d6b0d" stroke-width="2.6"/><line x1="895.4" y1="714.5" x2="1142" y2="714.5" stroke="#c01010" stroke-width="2.6"/><line x1="895.4" y1="618.6" x2="1142" y2="618.6" stroke="#9598a1" stroke-width="1.6"/><rect x="894.88" y="618.4" width="1.7" height="5.6" fill="#e01515"/><rect x="901.52" y="602.22" width="1.7" height="17.18" fill="#1fd81f"/><rect x="908.15" y="599.88" width="1.7" height="19.52" fill="#1fd81f"/><rect x="914.78" y="607.25" width="1.7" height="12.15" fill="#1010ee"/><rect x="921.42" y="608.26" width="1.7" height="11.14" fill="#1010ee"/><rect x="928.05" y="602.89" width="1.7" height="16.51" fill="#1fd81f"/><rect x="934.69" y="607.25" width="1.7" height="12.15" fill="#1010ee"/><rect x="941.32" y="611.27" width="1.7" height="8.13" fill="#1010ee"/><rect x="947.96" y="613.95" width="1.7" height="5.45" fill="#1010ee"/><rect x="954.59" y="617.64" width="1.7" height="1.76" fill="#1010ee"/><rect x="961.23" y="618.4" width="1.7" height="8.28" fill="#e01515"/><rect x="967.86" y="618.4" width="1.7" height="13.31" fill="#e01515"/><rect x="974.49" y="618.4" width="1.7" height="12.31" fill="#7a0a0a"/><rect x="981.13" y="618.4" width="1.7" height="12.31" fill="#7a0a0a"/><rect x="987.76" y="615.96" width="1.7" height="3.44" fill="#1fd81f"/><rect x="994.4" y="599.88" width="1.7" height="19.52" fill="#1fd81f"/><rect x="1001.03" y="593.85" width="1.7" height="25.55" fill="#1fd81f"/><rect x="1007.67" y="598.2" width="1.7" height="21.2" fill="#1010ee"/><rect x="1014.3" y="607.92" width="1.7" height="11.48" fill="#1010ee"/><rect x="1020.94" y="617.3" width="1.7" height="2.1" fill="#1010ee"/><rect x="1027.57" y="618.4" width="1.7" height="1.25" fill="#e01515"/><rect x="1034.21" y="617.64" width="1.7" height="1.76" fill="#1fd81f"/><rect x="1040.84" y="618.4" width="1.7" height="6.61" fill="#e01515"/><rect x="1047.47" y="618.4" width="1.7" height="9.63" fill="#e01515"/><rect x="1054.11" y="618.4" width="1.7" height="11.64" fill="#e01515"/><rect x="1060.74" y="618.4" width="1.7" height="5.6" fill="#7a0a0a"/><rect x="1067.38" y="614.62" width="1.7" height="4.78" fill="#1fd81f"/><rect x="1074.01" y="613.62" width="1.7" height="5.78" fill="#1fd81f"/><rect x="1080.65" y="610.6" width="1.7" height="8.8" fill="#1fd81f"/><rect x="1087.28" y="608.93" width="1.7" height="10.47" fill="#1fd81f"/><rect x="1093.92" y="614.62" width="1.7" height="4.78" fill="#1010ee"/><rect x="1100.55" y="618.4" width="1.7" height="1.25" fill="#e01515"/><rect x="1107.18" y="617.64" width="1.7" height="1.76" fill="#1fd81f"/><rect x="1113.82" y="612.61" width="1.7" height="6.79" fill="#1fd81f"/><rect x="1120.45" y="614.96" width="1.7" height="4.44" fill="#1010ee"/><rect x="1127.09" y="618.4" width="1.7" height="3.26" fill="#e01515"/><rect x="1133.72" y="618.4" width="1.7" height="13.31" fill="#e01515"/><rect x="1140.36" y="618.4" width="1.7" height="17.33" fill="#e01515"/><polyline points="895.68,620.65 902.05,607.25 908.08,598.87 915.11,594.85 921.82,583.8 928.18,572.74 934.88,567.71 941.92,564.36 947.95,561.34 954.99,564.03 961.02,573.74 967.72,582.12 974.42,589.83 980.79,596.53 987.83,589.49 994.86,567.04 1000.89,550.29 1007.93,539.57 1014.63,536.88 1021,539.57 1027.7,537.55 1034.4,538.56 1040.77,545.93 1047.47,552.63 1054.84,557.99 1060.87,557.32 1067.57,549.95 1074.95,548.95 1081.31,541.24 1088.01,533.53 1094.72,535.21 1101.08,537.55 1107.78,534.54 1114.49,528.17 1121.19,528.51 1127.89,534.54 1134.59,546.27 1140.96,557.99" fill="none" stroke="#0d6b0d" stroke-width="1.3" stroke-linejoin="round" /><polyline points="895.68,623.33 902.05,622.33 908.08,614.96 915.11,605.57 921.82,595.52 928.18,588.15 934.88,580.44 941.92,573.07 947.95,568.38 954.99,565.37 961.02,566.37 967.72,571.4 974.42,578.1 980.79,584.8 987.83,587.82 994.86,582.79 1000.89,572.07 1007.93,558.66 1014.63,547.94 1021,541.91 1027.7,539.23 1034.4,538.56 1040.77,540.24 1047.47,544.26 1054.84,548.61 1060.87,552.63 1067.57,554.64 1074.95,553.64 1081.31,549.62 1088.01,544.26 1094.72,540.91 1101.08,537.55 1107.78,536.55 1114.49,535.21 1121.19,533.53 1127.89,532.53 1134.59,535.21 1140.96,541.91" fill="none" stroke="#d01515" stroke-width="1.5" stroke-linejoin="round" /><circle cx="902.05" cy="624" r="2.3" fill="#22cc22"/><circle cx="961.02" cy="566.37" r="2.3" fill="#e01515"/><circle cx="988.16" cy="589.49" r="2.3" fill="#22cc22"/><circle cx="1027.7" cy="539.23" r="2.3" fill="#e01515"/><circle cx="1035.07" cy="538.56" r="2.3" fill="#22cc22"/><circle cx="1040.77" cy="540.24" r="2.3" fill="#e01515"/><circle cx="1067.91" cy="554.31" r="2.3" fill="#22cc22"/><circle cx="1101.08" cy="537.55" r="2.3" fill="#e01515"/><circle cx="1108.12" cy="536.21" r="2.3" fill="#22cc22"/><circle cx="1127.89" cy="532.53" r="2.3" fill="#e01515"/></g>
<g clip-path="url(#q3)"><line x1="895.4" y1="770.9" x2="1240.3" y2="770.9" stroke="rgba(240,243,250,0.07)" stroke-width="1"/><line x1="895.4" y1="838" x2="1240.3" y2="838" stroke="rgba(240,243,250,0.07)" stroke-width="1"/><polyline points="895.68,830.55 902.05,826.19 908.08,830.55 915.11,829.54 921.82,825.52 928.18,817.15 934.88,820.83 941.92,820.16 947.95,819.49 954.99,820.5 961.02,822.51 967.72,822.51 974.42,822.51 980.79,822.17 987.83,819.49 994.86,802.74 1000.89,758.51 1007.93,746.11 1014.63,761.86 1021,765.88 1027.7,755.83 1034.4,757.84 1040.77,764.2 1047.47,762.19 1054.84,762.86 1060.87,760.85 1067.57,758.51 1074.95,758.51 1081.31,755.83 1088.01,756.16 1094.72,757.5 1101.08,757.17 1107.78,755.16 1114.49,751.81 1121.19,754.82 1127.89,754.82 1134.59,757.17 1140.96,757.17" fill="none" stroke="#2962ff" stroke-width="1.4" stroke-linejoin="round" /></g>
<g clip-path="url(#a3)"><text x="1251.3" y="106.8" font-size="14.5" fill="#b2b5be" textLength="66" lengthAdjust="spacingAndGlyphs">71.500,00</text><text x="1251.3" y="170.9" font-size="14.5" fill="#b2b5be" textLength="66" lengthAdjust="spacingAndGlyphs">71.100,00</text><text x="1251.3" y="233.7" font-size="14.5" fill="#b2b5be" textLength="66" lengthAdjust="spacingAndGlyphs">70.700,00</text><text x="1251.3" y="299.6" font-size="14.5" fill="#b2b5be" textLength="66" lengthAdjust="spacingAndGlyphs">70.300,00</text><text x="1251.3" y="362.6" font-size="14.5" fill="#b2b5be" textLength="66" lengthAdjust="spacingAndGlyphs">69.900,00</text><text x="1251.3" y="411.2" font-size="14.5" fill="#b2b5be" textLength="66" lengthAdjust="spacingAndGlyphs">69.600,00</text><text x="1251.3" y="451.3" font-size="14.5" fill="#b2b5be" textLength="66" lengthAdjust="spacingAndGlyphs">69.350,00</text><text x="1251.3" y="492" font-size="14.5" fill="#b2b5be" textLength="66" lengthAdjust="spacingAndGlyphs">69.100,00</text></g>
<g clip-path="url(#b3)"><text x="1251.5" y="542.6" font-size="14.5" fill="#b2b5be" textLength="37.5" lengthAdjust="spacingAndGlyphs">50,00</text><text x="1251.5" y="582.4" font-size="14.5" fill="#b2b5be" textLength="37.5" lengthAdjust="spacingAndGlyphs">25,00</text><text x="1251.5" y="622.6" font-size="14.5" fill="#b2b5be" textLength="29.7" lengthAdjust="spacingAndGlyphs">0,00</text><text x="1251.5" y="662.8" font-size="14.5" fill="#b2b5be" textLength="46" lengthAdjust="spacingAndGlyphs">−25,00</text><text x="1251.5" y="702.7" font-size="14.5" fill="#b2b5be" textLength="46" lengthAdjust="spacingAndGlyphs">−50,00</text></g>
<g clip-path="url(#c3)"><text x="1251.5" y="775.9" font-size="14.5" fill="#b2b5be" textLength="31.5" lengthAdjust="spacingAndGlyphs">−294</text><text x="1251.5" y="842.3" font-size="14.5" fill="#b2b5be" textLength="31.5" lengthAdjust="spacingAndGlyphs">−296</text></g>
<line x1="1240.3" y1="34.4" x2="1240.3" y2="874.2" stroke="#2b2f3a" stroke-width="1"/><line x1="895.4" y1="840.6" x2="1329.6" y2="840.6" stroke="#2b2f3a" stroke-width="1"/><line x1="895.4" y1="498.35" x2="1329.6" y2="498.35" stroke="#05060f" stroke-width="2.8"/><line x1="895.4" y1="498.55" x2="1329.6" y2="498.55" stroke="#eceef5" stroke-width="1.3"/><line x1="895.4" y1="735.3" x2="1329.6" y2="735.3" stroke="#05060f" stroke-width="2.8"/><line x1="895.4" y1="735.5" x2="1329.6" y2="735.5" stroke="#eceef5" stroke-width="1.3"/>
<g clip-path="url(#w3)"><path d="M1172.1 254.1H1321.9a3 3 0 0 1 3 3V289.6a3 3 0 0 1-3 3H1240.3V274.75H1172.1a3 3 0 0 1-3-3V257.1a3 3 0 0 1 3-3z" fill="#ff0000"/><line x1="1240.3" y1="254.1" x2="1240.3" y2="292.6" stroke="#ff3b3b" stroke-width="1"/><text x="1174.1" y="269.8" font-size="14.5" fill="#ffffff" textLength="59.3" lengthAdjust="spacingAndGlyphs">BTCUSDT</text><text x="1252.7" y="268.5" font-size="14.5" fill="#ffffff" textLength="64.8" lengthAdjust="spacingAndGlyphs">70.487,97</text><text x="1252.7" y="286.8" font-size="14.5" fill="#ffd2d2" textLength="36" lengthAdjust="spacingAndGlyphs">03:46</text><text x="904.5" y="58.8" font-size="14.5" fill="#b2b5be" textLength="47" lengthAdjust="spacingAndGlyphs">Bitcoin</text><line x1="957.9" y1="60.4" x2="962.5" y2="48.2" stroke="#b2b5be" stroke-width="1.25"/><text x="969.7" y="58.8" font-size="14.5" fill="#b2b5be" textLength="59.7" lengthAdjust="spacingAndGlyphs">TetherUS</text><circle cx="1036.3" cy="54.2" r="1.15" fill="#b2b5be"/><text x="1043.8" y="58.8" font-size="14.5" fill="#b2b5be" textLength="7.7" lengthAdjust="spacingAndGlyphs">7</text><circle cx="1058.7" cy="54.2" r="1.15" fill="#b2b5be"/><text x="1066.2" y="58.8" font-size="14.5" fill="#b2b5be" textLength="52.9" lengthAdjust="spacingAndGlyphs">Binance</text><text x="1127.6" y="58.8" font-size="14.5" fill="#b2b5be" textLength="10.7" lengthAdjust="spacingAndGlyphs">O</text><text x="1138.8" y="58.8" font-size="14.5" fill="#22ab94" textLength="65.9" lengthAdjust="spacingAndGlyphs">70.478,29</text><text x="1213.6" y="58.8" font-size="14.5" fill="#b2b5be" textLength="9.8" lengthAdjust="spacingAndGlyphs">H</text><rect x="1226.1" y="56.7" width="1.9" height="2.1" fill="#b2b5be"/><rect x="1231.3" y="56.7" width="1.9" height="2.1" fill="#b2b5be"/><rect x="1236.5" y="56.7" width="1.9" height="2.1" fill="#b2b5be"/><rect x="1245.2" y="39" width="80" height="31.8" fill="#0f0f0f" rx="5" stroke="#3a3a3a" stroke-width="1"/><text x="1255.6" y="59.9" font-size="15.5" fill="#d1d4dc" textLength="36" lengthAdjust="spacingAndGlyphs">USDT</text><text x="1055.4" y="863.1" font-size="14.5" fill="#b2b5be" textLength="36.5" lengthAdjust="spacingAndGlyphs" text-anchor="middle">21:04</text><text x="1228.3" y="863.1" font-size="14.5" fill="#c8cad0" textLength="17" lengthAdjust="spacingAndGlyphs" text-anchor="middle" font-weight="bold">20</text></g>
</g>
<g fill="#131313"><path d="M15.8 902.45H30.7V920.9H23.25V909.7H15.8Z"/><circle cx="37" cy="906.2" r="3.7"/><path d="M44.85 902.45H53L45.6 920.9H37.3Z"/><text x="61.4" y="920.9" font-size="25.7" fill="#131313" textLength="151.2" lengthAdjust="spacingAndGlyphs" font-weight="bold">TradingView</text></g>
</svg>
</body></html>
